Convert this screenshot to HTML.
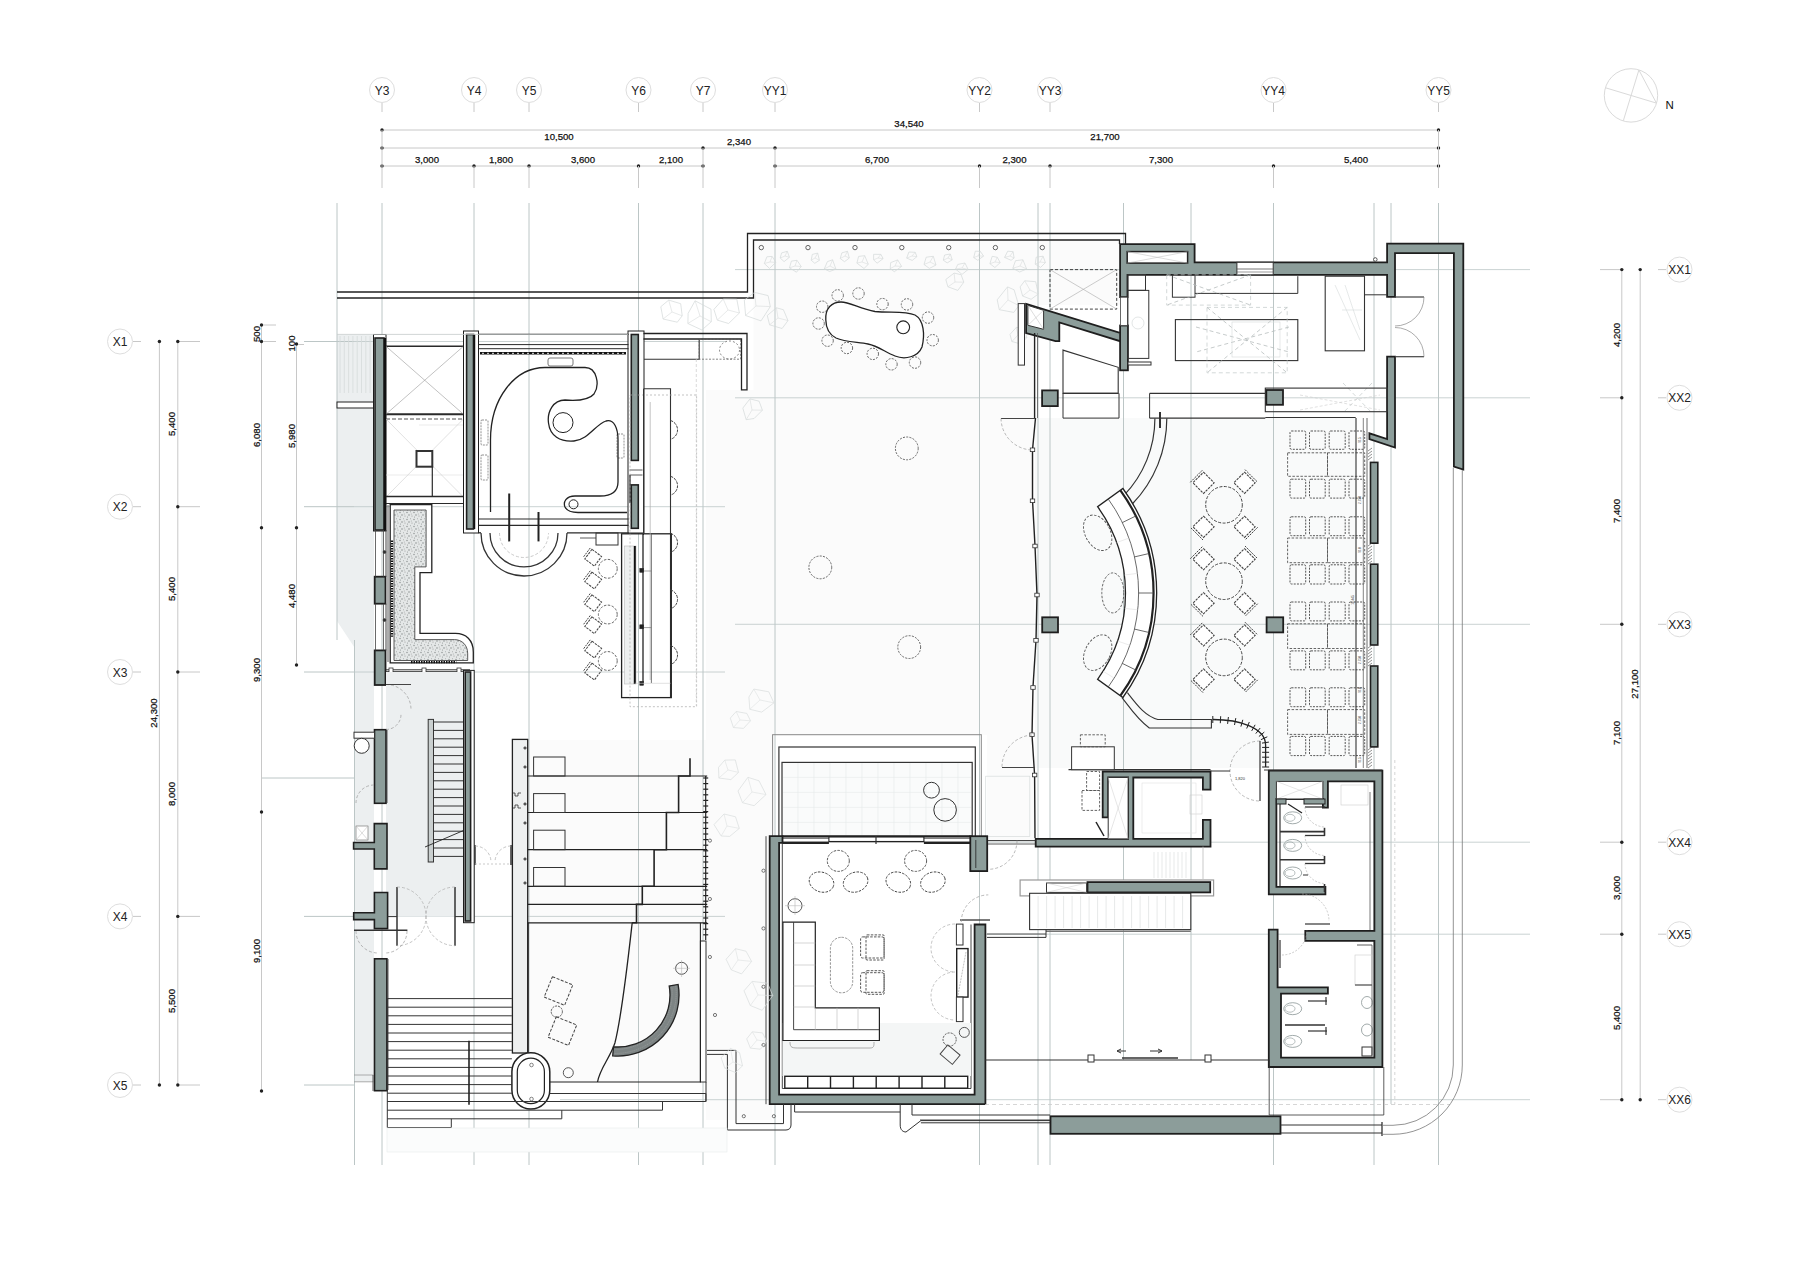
<!DOCTYPE html>
<html><head><meta charset="utf-8"><style>
html,body{margin:0;padding:0;background:#fff;overflow:hidden}
svg{display:block}
text{font-family:"Liberation Sans",sans-serif}
</style></head><body>
<svg width="1800" height="1273" viewBox="0 0 1800 1273">
<rect x="0" y="0" width="1800" height="1273" fill="#fff"/>
<path d="M337,335 L374,335 L374,1082 L354.5,1082 L354.5,647.5 L337,621 Z" fill="#eceff0"/>
<path d="M753.5,240 H1120 V305 H1034 V840 H987 V735 H706 V390 H753.5 Z" fill="#fbfbfb"/>
<rect x="1035" y="418" width="321" height="350" fill="#f9fafa"/>
<rect x="528" y="740" width="178" height="342" fill="#fbfbfb"/>
<rect x="706" y="700" width="66" height="420" fill="#fbfbfb"/>
<line x1="337" y1="203" x2="337" y2="640" stroke="#bcc6c6" stroke-width="1"/>
<line x1="382" y1="203" x2="382" y2="1165" stroke="#bcc6c6" stroke-width="1"/>
<line x1="474" y1="203" x2="474" y2="1165" stroke="#bcc6c6" stroke-width="1"/>
<line x1="529" y1="203" x2="529" y2="1165" stroke="#bcc6c6" stroke-width="1"/>
<line x1="638.5" y1="203" x2="638.5" y2="1165" stroke="#bcc6c6" stroke-width="1"/>
<line x1="703" y1="203" x2="703" y2="1165" stroke="#bcc6c6" stroke-width="1"/>
<line x1="775" y1="203" x2="775" y2="1165" stroke="#bcc6c6" stroke-width="1"/>
<line x1="979.5" y1="203" x2="979.5" y2="1165" stroke="#bcc6c6" stroke-width="1"/>
<line x1="1038" y1="203" x2="1038" y2="1165" stroke="#bcc6c6" stroke-width="1"/>
<line x1="1050" y1="203" x2="1050" y2="1165" stroke="#bcc6c6" stroke-width="1"/>
<line x1="1123.5" y1="203" x2="1123.5" y2="1060" stroke="#bcc6c6" stroke-width="1"/>
<line x1="1191" y1="203" x2="1191" y2="1060" stroke="#bcc6c6" stroke-width="1"/>
<line x1="1273.5" y1="203" x2="1273.5" y2="1165" stroke="#bcc6c6" stroke-width="1"/>
<line x1="1374" y1="203" x2="1374" y2="1165" stroke="#bcc6c6" stroke-width="1"/>
<line x1="1391" y1="203" x2="1391" y2="1104" stroke="#bcc6c6" stroke-width="1"/>
<line x1="1438.5" y1="203" x2="1438.5" y2="1165" stroke="#bcc6c6" stroke-width="1"/>
<line x1="354.5" y1="640" x2="354.5" y2="1165" stroke="#bcc6c6" stroke-width="1"/>
<circle cx="382" cy="90" r="12.5" fill="none" stroke="#dedede" stroke-width="1"/>
<text x="382" y="94.5" font-size="12" text-anchor="middle" fill="#222">Y3</text>
<line x1="382" y1="103" x2="382" y2="112" stroke="#c8c8c8"/>
<circle cx="474" cy="90" r="12.5" fill="none" stroke="#dedede" stroke-width="1"/>
<text x="474" y="94.5" font-size="12" text-anchor="middle" fill="#222">Y4</text>
<line x1="474" y1="103" x2="474" y2="112" stroke="#c8c8c8"/>
<circle cx="529" cy="90" r="12.5" fill="none" stroke="#dedede" stroke-width="1"/>
<text x="529" y="94.5" font-size="12" text-anchor="middle" fill="#222">Y5</text>
<line x1="529" y1="103" x2="529" y2="112" stroke="#c8c8c8"/>
<circle cx="638.5" cy="90" r="12.5" fill="none" stroke="#dedede" stroke-width="1"/>
<text x="638.5" y="94.5" font-size="12" text-anchor="middle" fill="#222">Y6</text>
<line x1="638.5" y1="103" x2="638.5" y2="112" stroke="#c8c8c8"/>
<circle cx="703" cy="90" r="12.5" fill="none" stroke="#dedede" stroke-width="1"/>
<text x="703" y="94.5" font-size="12" text-anchor="middle" fill="#222">Y7</text>
<line x1="703" y1="103" x2="703" y2="112" stroke="#c8c8c8"/>
<circle cx="775" cy="90" r="12.5" fill="none" stroke="#dedede" stroke-width="1"/>
<text x="775" y="94.5" font-size="12" text-anchor="middle" fill="#222">YY1</text>
<line x1="775" y1="103" x2="775" y2="112" stroke="#c8c8c8"/>
<circle cx="979.5" cy="90" r="12.5" fill="none" stroke="#dedede" stroke-width="1"/>
<text x="979.5" y="94.5" font-size="12" text-anchor="middle" fill="#222">YY2</text>
<line x1="979.5" y1="103" x2="979.5" y2="112" stroke="#c8c8c8"/>
<circle cx="1050" cy="90" r="12.5" fill="none" stroke="#dedede" stroke-width="1"/>
<text x="1050" y="94.5" font-size="12" text-anchor="middle" fill="#222">YY3</text>
<line x1="1050" y1="103" x2="1050" y2="112" stroke="#c8c8c8"/>
<circle cx="1273.5" cy="90" r="12.5" fill="none" stroke="#dedede" stroke-width="1"/>
<text x="1273.5" y="94.5" font-size="12" text-anchor="middle" fill="#222">YY4</text>
<line x1="1273.5" y1="103" x2="1273.5" y2="112" stroke="#c8c8c8"/>
<circle cx="1438.5" cy="90" r="12.5" fill="none" stroke="#dedede" stroke-width="1"/>
<text x="1438.5" y="94.5" font-size="12" text-anchor="middle" fill="#222">YY5</text>
<line x1="1438.5" y1="103" x2="1438.5" y2="112" stroke="#c8c8c8"/>
<line x1="382" y1="130" x2="1438.5" y2="130" stroke="#c8c8c8"/>
<circle cx="382" cy="130" r="1.7" fill="#222"/>
<circle cx="1438.5" cy="130" r="1.7" fill="#222"/>
<line x1="382" y1="148" x2="1438.5" y2="148" stroke="#c8c8c8"/>
<circle cx="382" cy="148" r="1.7" fill="#222"/>
<circle cx="703" cy="148" r="1.7" fill="#222"/>
<circle cx="775" cy="148" r="1.7" fill="#222"/>
<circle cx="1438.5" cy="148" r="1.7" fill="#222"/>
<line x1="382" y1="166" x2="703" y2="166" stroke="#c8c8c8"/>
<circle cx="382" cy="166" r="1.7" fill="#222"/>
<circle cx="474" cy="166" r="1.7" fill="#222"/>
<circle cx="529" cy="166" r="1.7" fill="#222"/>
<circle cx="638.5" cy="166" r="1.7" fill="#222"/>
<circle cx="703" cy="166" r="1.7" fill="#222"/>
<line x1="775" y1="166" x2="1438.5" y2="166" stroke="#c8c8c8"/>
<circle cx="775" cy="166" r="1.7" fill="#222"/>
<circle cx="979.5" cy="166" r="1.7" fill="#222"/>
<circle cx="1050" cy="166" r="1.7" fill="#222"/>
<circle cx="1273.5" cy="166" r="1.7" fill="#222"/>
<circle cx="1438.5" cy="166" r="1.7" fill="#222"/>
<line x1="382" y1="130" x2="382" y2="188" stroke="#c8c8c8"/>
<line x1="474" y1="166" x2="474" y2="188" stroke="#c8c8c8"/>
<line x1="529" y1="166" x2="529" y2="188" stroke="#c8c8c8"/>
<line x1="638.5" y1="166" x2="638.5" y2="188" stroke="#c8c8c8"/>
<line x1="703" y1="148" x2="703" y2="188" stroke="#c8c8c8"/>
<line x1="775" y1="148" x2="775" y2="188" stroke="#c8c8c8"/>
<line x1="979.5" y1="166" x2="979.5" y2="188" stroke="#c8c8c8"/>
<line x1="1050" y1="166" x2="1050" y2="188" stroke="#c8c8c8"/>
<line x1="1273.5" y1="166" x2="1273.5" y2="188" stroke="#c8c8c8"/>
<line x1="1438.5" y1="130" x2="1438.5" y2="188" stroke="#c8c8c8"/>
<text x="909" y="126.5" font-size="9.6" text-anchor="middle" fill="#111" stroke="#111" stroke-width="0.25">34,540</text>
<text x="559" y="139.5" font-size="9.6" text-anchor="middle" fill="#111" stroke="#111" stroke-width="0.25">10,500</text>
<text x="1105" y="139.5" font-size="9.6" text-anchor="middle" fill="#111" stroke="#111" stroke-width="0.25">21,700</text>
<text x="739" y="145" font-size="9.6" text-anchor="middle" fill="#111" stroke="#111" stroke-width="0.25">2,340</text>
<text x="427" y="163" font-size="9.6" text-anchor="middle" fill="#111" stroke="#111" stroke-width="0.25">3,000</text>
<text x="501" y="163" font-size="9.6" text-anchor="middle" fill="#111" stroke="#111" stroke-width="0.25">1,800</text>
<text x="583" y="163" font-size="9.6" text-anchor="middle" fill="#111" stroke="#111" stroke-width="0.25">3,600</text>
<text x="671" y="163" font-size="9.6" text-anchor="middle" fill="#111" stroke="#111" stroke-width="0.25">2,100</text>
<text x="877" y="163" font-size="9.6" text-anchor="middle" fill="#111" stroke="#111" stroke-width="0.25">6,700</text>
<text x="1014.5" y="163" font-size="9.6" text-anchor="middle" fill="#111" stroke="#111" stroke-width="0.25">2,300</text>
<text x="1161" y="163" font-size="9.6" text-anchor="middle" fill="#111" stroke="#111" stroke-width="0.25">7,300</text>
<text x="1356" y="163" font-size="9.6" text-anchor="middle" fill="#111" stroke="#111" stroke-width="0.25">5,400</text>
<circle cx="120" cy="341.5" r="12.5" fill="none" stroke="#dedede"/>
<text x="120" y="346.0" font-size="12" text-anchor="middle" fill="#222">X1</text>
<line x1="133" y1="341.5" x2="141" y2="341.5" stroke="#c8c8c8"/>
<line x1="177.8" y1="341.5" x2="200" y2="341.5" stroke="#c8c8c8"/>
<line x1="304" y1="341.5" x2="354" y2="341.5" stroke="#bcc6c6"/>
<circle cx="120" cy="506.7" r="12.5" fill="none" stroke="#dedede"/>
<text x="120" y="511.2" font-size="12" text-anchor="middle" fill="#222">X2</text>
<line x1="133" y1="506.7" x2="141" y2="506.7" stroke="#c8c8c8"/>
<line x1="177.8" y1="506.7" x2="200" y2="506.7" stroke="#c8c8c8"/>
<line x1="304" y1="506.7" x2="354" y2="506.7" stroke="#bcc6c6"/>
<circle cx="120" cy="672" r="12.5" fill="none" stroke="#dedede"/>
<text x="120" y="676.5" font-size="12" text-anchor="middle" fill="#222">X3</text>
<line x1="133" y1="672" x2="141" y2="672" stroke="#c8c8c8"/>
<line x1="177.8" y1="672" x2="200" y2="672" stroke="#c8c8c8"/>
<line x1="304" y1="672" x2="354" y2="672" stroke="#bcc6c6"/>
<circle cx="120" cy="916.4" r="12.5" fill="none" stroke="#dedede"/>
<text x="120" y="920.9" font-size="12" text-anchor="middle" fill="#222">X4</text>
<line x1="133" y1="916.4" x2="141" y2="916.4" stroke="#c8c8c8"/>
<line x1="177.8" y1="916.4" x2="200" y2="916.4" stroke="#c8c8c8"/>
<line x1="304" y1="916.4" x2="354" y2="916.4" stroke="#bcc6c6"/>
<circle cx="120" cy="1085" r="12.5" fill="none" stroke="#dedede"/>
<text x="120" y="1089.5" font-size="12" text-anchor="middle" fill="#222">X5</text>
<line x1="133" y1="1085" x2="141" y2="1085" stroke="#c8c8c8"/>
<line x1="177.8" y1="1085" x2="200" y2="1085" stroke="#c8c8c8"/>
<line x1="304" y1="1085" x2="354" y2="1085" stroke="#bcc6c6"/>
<line x1="159.4" y1="341.5" x2="159.4" y2="1085" stroke="#c8c8c8"/>
<circle cx="159.4" cy="341.5" r="1.7" fill="#222"/>
<circle cx="159.4" cy="1085" r="1.7" fill="#222"/>
<line x1="177.8" y1="341.5" x2="177.8" y2="1085" stroke="#c8c8c8"/>
<circle cx="177.8" cy="341.5" r="1.7" fill="#222"/>
<circle cx="177.8" cy="506.7" r="1.7" fill="#222"/>
<circle cx="177.8" cy="672" r="1.7" fill="#222"/>
<circle cx="177.8" cy="916.4" r="1.7" fill="#222"/>
<circle cx="177.8" cy="1085" r="1.7" fill="#222"/>
<line x1="261.5" y1="325" x2="261.5" y2="1091" stroke="#c8c8c8"/>
<circle cx="261.5" cy="325" r="1.7" fill="#222"/>
<circle cx="261.5" cy="341.5" r="1.7" fill="#222"/>
<circle cx="261.5" cy="527.7" r="1.7" fill="#222"/>
<circle cx="261.5" cy="812" r="1.7" fill="#222"/>
<circle cx="261.5" cy="1091" r="1.7" fill="#222"/>
<line x1="296.5" y1="344" x2="296.5" y2="665" stroke="#c8c8c8"/>
<circle cx="296.5" cy="344" r="1.7" fill="#222"/>
<circle cx="296.5" cy="527.7" r="1.7" fill="#222"/>
<circle cx="296.5" cy="665" r="1.7" fill="#222"/>
<text transform="translate(174.5,424) rotate(-90)" x="0" y="0" font-size="9.6" text-anchor="middle" fill="#111" stroke="#111" stroke-width="0.25">5,400</text>
<text transform="translate(174.5,589) rotate(-90)" x="0" y="0" font-size="9.6" text-anchor="middle" fill="#111" stroke="#111" stroke-width="0.25">5,400</text>
<text transform="translate(157,713) rotate(-90)" x="0" y="0" font-size="9.6" text-anchor="middle" fill="#111" stroke="#111" stroke-width="0.25">24,300</text>
<text transform="translate(174.5,794) rotate(-90)" x="0" y="0" font-size="9.6" text-anchor="middle" fill="#111" stroke="#111" stroke-width="0.25">8,000</text>
<text transform="translate(174.5,1001) rotate(-90)" x="0" y="0" font-size="9.6" text-anchor="middle" fill="#111" stroke="#111" stroke-width="0.25">5,500</text>
<text transform="translate(259.5,435) rotate(-90)" x="0" y="0" font-size="9.6" text-anchor="middle" fill="#111" stroke="#111" stroke-width="0.25">6,080</text>
<text transform="translate(294.5,436) rotate(-90)" x="0" y="0" font-size="9.6" text-anchor="middle" fill="#111" stroke="#111" stroke-width="0.25">5,980</text>
<text transform="translate(294.5,596) rotate(-90)" x="0" y="0" font-size="9.6" text-anchor="middle" fill="#111" stroke="#111" stroke-width="0.25">4,480</text>
<text transform="translate(259.5,670) rotate(-90)" x="0" y="0" font-size="9.6" text-anchor="middle" fill="#111" stroke="#111" stroke-width="0.25">9,300</text>
<text transform="translate(259.5,951) rotate(-90)" x="0" y="0" font-size="9.6" text-anchor="middle" fill="#111" stroke="#111" stroke-width="0.25">9,100</text>
<text transform="translate(259.5,334) rotate(-90)" x="0" y="0" font-size="9.6" text-anchor="middle" fill="#111" stroke="#111" stroke-width="0.25">500</text>
<text transform="translate(294.5,343.5) rotate(-90)" x="0" y="0" font-size="9.6" text-anchor="middle" fill="#111" stroke="#111" stroke-width="0.25">100</text>
<line x1="262" y1="778" x2="354" y2="778" stroke="#bcc6c6"/>
<line x1="263" y1="325" x2="276" y2="325" stroke="#c8c8c8"/>
<line x1="263" y1="341.5" x2="276" y2="341.5" stroke="#c8c8c8"/>
<line x1="298" y1="344.5" x2="304" y2="344.5" stroke="#c8c8c8"/>
<circle cx="1679.5" cy="269.6" r="12.5" fill="none" stroke="#dedede"/>
<text x="1679.5" y="274.1" font-size="12" text-anchor="middle" fill="#222">XX1</text>
<line x1="1658" y1="269.6" x2="1666" y2="269.6" stroke="#c8c8c8"/>
<line x1="1600" y1="269.6" x2="1622" y2="269.6" stroke="#c8c8c8"/>
<circle cx="1679.5" cy="397.8" r="12.5" fill="none" stroke="#dedede"/>
<text x="1679.5" y="402.3" font-size="12" text-anchor="middle" fill="#222">XX2</text>
<line x1="1658" y1="397.8" x2="1666" y2="397.8" stroke="#c8c8c8"/>
<line x1="1600" y1="397.8" x2="1622" y2="397.8" stroke="#c8c8c8"/>
<circle cx="1679.5" cy="624.3" r="12.5" fill="none" stroke="#dedede"/>
<text x="1679.5" y="628.8" font-size="12" text-anchor="middle" fill="#222">XX3</text>
<line x1="1658" y1="624.3" x2="1666" y2="624.3" stroke="#c8c8c8"/>
<line x1="1600" y1="624.3" x2="1622" y2="624.3" stroke="#c8c8c8"/>
<circle cx="1679.5" cy="842.2" r="12.5" fill="none" stroke="#dedede"/>
<text x="1679.5" y="846.7" font-size="12" text-anchor="middle" fill="#222">XX4</text>
<line x1="1658" y1="842.2" x2="1666" y2="842.2" stroke="#c8c8c8"/>
<line x1="1600" y1="842.2" x2="1622" y2="842.2" stroke="#c8c8c8"/>
<circle cx="1679.5" cy="934.2" r="12.5" fill="none" stroke="#dedede"/>
<text x="1679.5" y="938.7" font-size="12" text-anchor="middle" fill="#222">XX5</text>
<line x1="1658" y1="934.2" x2="1666" y2="934.2" stroke="#c8c8c8"/>
<line x1="1600" y1="934.2" x2="1622" y2="934.2" stroke="#c8c8c8"/>
<circle cx="1679.5" cy="1099.7" r="12.5" fill="none" stroke="#dedede"/>
<text x="1679.5" y="1104.2" font-size="12" text-anchor="middle" fill="#222">XX6</text>
<line x1="1658" y1="1099.7" x2="1666" y2="1099.7" stroke="#c8c8c8"/>
<line x1="1600" y1="1099.7" x2="1622" y2="1099.7" stroke="#c8c8c8"/>
<line x1="1621.8" y1="269.6" x2="1621.8" y2="1099.7" stroke="#c8c8c8"/>
<circle cx="1621.8" cy="269.6" r="1.7" fill="#222"/>
<circle cx="1621.8" cy="397.8" r="1.7" fill="#222"/>
<circle cx="1621.8" cy="624.3" r="1.7" fill="#222"/>
<circle cx="1621.8" cy="842.2" r="1.7" fill="#222"/>
<circle cx="1621.8" cy="934.2" r="1.7" fill="#222"/>
<circle cx="1621.8" cy="1099.7" r="1.7" fill="#222"/>
<line x1="1640.2" y1="269.6" x2="1640.2" y2="1099.7" stroke="#c8c8c8"/>
<circle cx="1640.2" cy="269.6" r="1.7" fill="#222"/>
<circle cx="1640.2" cy="1099.7" r="1.7" fill="#222"/>
<text transform="translate(1619.5,335) rotate(-90)" x="0" y="0" font-size="9.6" text-anchor="middle" fill="#111" stroke="#111" stroke-width="0.25">4,200</text>
<text transform="translate(1619.5,511) rotate(-90)" x="0" y="0" font-size="9.6" text-anchor="middle" fill="#111" stroke="#111" stroke-width="0.25">7,400</text>
<text transform="translate(1619.5,733) rotate(-90)" x="0" y="0" font-size="9.6" text-anchor="middle" fill="#111" stroke="#111" stroke-width="0.25">7,100</text>
<text transform="translate(1619.5,888) rotate(-90)" x="0" y="0" font-size="9.6" text-anchor="middle" fill="#111" stroke="#111" stroke-width="0.25">3,000</text>
<text transform="translate(1619.5,1018) rotate(-90)" x="0" y="0" font-size="9.6" text-anchor="middle" fill="#111" stroke="#111" stroke-width="0.25">5,400</text>
<text transform="translate(1637.5,684) rotate(-90)" x="0" y="0" font-size="9.6" text-anchor="middle" fill="#111" stroke="#111" stroke-width="0.25">27,100</text>
<circle cx="1631" cy="95.4" r="26.7" fill="none" stroke="#dadada" stroke-width="1"/>
<path d="M1605.6,87.8 L1656.1,103 M1638.9,70 L1623.3,120.8 M1638.9,70 L1656.4,103" fill="none" stroke="#dadada" stroke-width="1"/>
<text x="1665.5" y="108.6" font-size="11.5" fill="#111">N</text>
<line x1="354" y1="341.5" x2="725" y2="341.5" stroke="#bcc6c6" stroke-width="0.8"/>
<line x1="354" y1="506.7" x2="725" y2="506.7" stroke="#bcc6c6" stroke-width="0.8"/>
<line x1="354" y1="672" x2="725" y2="672" stroke="#bcc6c6" stroke-width="0.8"/>
<line x1="354" y1="916.4" x2="725" y2="916.4" stroke="#bcc6c6" stroke-width="0.8"/>
<line x1="735" y1="269.6" x2="1530" y2="269.6" stroke="#bcc6c6" stroke-width="0.8"/>
<line x1="735" y1="397.8" x2="1530" y2="397.8" stroke="#bcc6c6" stroke-width="0.8"/>
<line x1="735" y1="624.3" x2="1530" y2="624.3" stroke="#bcc6c6" stroke-width="0.8"/>
<line x1="985" y1="842.2" x2="1530" y2="842.2" stroke="#bcc6c6" stroke-width="0.8"/>
<line x1="985" y1="934.2" x2="1530" y2="934.2" stroke="#bcc6c6" stroke-width="0.8"/>
<line x1="560" y1="1099.7" x2="1530" y2="1099.7" stroke="#bcc6c6" stroke-width="0.8"/>
<path d="M337,292 H747.5 V233.5 H1125.5 V244" fill="none" stroke="#222" stroke-width="1.3" />
<path d="M337,298 H753.5 V240 H1119.5 V244" fill="none" stroke="#222" stroke-width="1.3" />
<line x1="340.0" y1="336.0" x2="340.0" y2="393.0" stroke="#d5dbdb" stroke-width="0.8"/>
<line x1="344.3" y1="336.0" x2="344.3" y2="393.0" stroke="#d5dbdb" stroke-width="0.8"/>
<line x1="348.6" y1="336.0" x2="348.6" y2="393.0" stroke="#d5dbdb" stroke-width="0.8"/>
<line x1="352.9" y1="336.0" x2="352.9" y2="393.0" stroke="#d5dbdb" stroke-width="0.8"/>
<line x1="357.2" y1="336.0" x2="357.2" y2="393.0" stroke="#d5dbdb" stroke-width="0.8"/>
<line x1="361.5" y1="336.0" x2="361.5" y2="393.0" stroke="#d5dbdb" stroke-width="0.8"/>
<line x1="365.8" y1="336.0" x2="365.8" y2="393.0" stroke="#d5dbdb" stroke-width="0.8"/>
<line x1="370.1" y1="336.0" x2="370.1" y2="393.0" stroke="#d5dbdb" stroke-width="0.8"/>
<rect x="337.0" y="402.0" width="37.0" height="6.0" fill="#fff" stroke="#222" stroke-width="1"/>
<rect x="373.5" y="334.5" width="12.5" height="196.5" fill="#fff" stroke="#1e1e1e" stroke-width="1"/>
<rect x="375.0" y="338.0" width="9.0" height="192.0" fill="#8c9d9a" stroke="#1e1e1e" stroke-width="1.6"/>
<line x1="385.0" y1="338.0" x2="385.0" y2="531.0" stroke="#111" stroke-width="2.2"/>
<rect x="374.7" y="576.7" width="10.8" height="27.0" fill="#8c9d9a" stroke="#1e1e1e" stroke-width="1.8"/>
<rect x="374.7" y="650.4" width="10.8" height="34.6" fill="#8c9d9a" stroke="#1e1e1e" stroke-width="1.8"/>
<line x1="375.5" y1="530.0" x2="375.5" y2="576.7" stroke="#444" stroke-width="0.8"/>
<line x1="383.5" y1="530.0" x2="383.5" y2="576.7" stroke="#444" stroke-width="0.8"/>
<line x1="386.0" y1="530.0" x2="386.0" y2="576.7" stroke="#444" stroke-width="1"/>
<line x1="375.5" y1="603.7" x2="375.5" y2="650.4" stroke="#444" stroke-width="0.8"/>
<line x1="383.5" y1="603.7" x2="383.5" y2="650.4" stroke="#444" stroke-width="0.8"/>
<line x1="386.0" y1="603.7" x2="386.0" y2="650.4" stroke="#444" stroke-width="1"/>
<line x1="386.0" y1="346.3" x2="463.4" y2="346.3" stroke="#2a2a2a" stroke-width="1.6"/>
<line x1="386.0" y1="414.2" x2="463.4" y2="414.2" stroke="#2a2a2a" stroke-width="2"/>
<line x1="386.0" y1="419.0" x2="463.4" y2="419.0" stroke="#555" stroke-width="1.2" stroke-dasharray="4 2"/>
<line x1="386.0" y1="346.3" x2="463.4" y2="414.2" stroke="#999" stroke-width="0.6"/>
<line x1="463.4" y1="346.3" x2="386.0" y2="414.2" stroke="#999" stroke-width="0.6"/>
<line x1="419.0" y1="425.0" x2="463.0" y2="425.0" stroke="#ddd" stroke-width="0.6"/>
<line x1="386.0" y1="475.0" x2="463.0" y2="475.0" stroke="#ddd" stroke-width="0.6"/>
<line x1="386.0" y1="419.0" x2="463.4" y2="497.0" stroke="#ccc" stroke-width="0.6"/>
<line x1="463.4" y1="419.0" x2="386.0" y2="497.0" stroke="#ccc" stroke-width="0.6"/>
<rect x="416.5" y="451.0" width="15.8" height="15.7" fill="#fff" stroke="#333" stroke-width="2"/>
<line x1="432.3" y1="466.7" x2="432.3" y2="497.0" stroke="#2a2a2a" stroke-width="1.2"/>
<line x1="386.0" y1="496.6" x2="463.4" y2="496.6" stroke="#2a2a2a" stroke-width="1.5"/>
<line x1="386.0" y1="503.5" x2="463.4" y2="503.5" stroke="#2a2a2a" stroke-width="1.2"/>
<rect x="463.5" y="331.0" width="15.0" height="202.0" fill="#fff" stroke="#1e1e1e" stroke-width="1"/>
<rect x="466.6" y="334.5" width="6.9" height="194.5" fill="#8c9d9a" stroke="#1e1e1e" stroke-width="1.6"/>
<line x1="474.5" y1="334.5" x2="474.5" y2="529.0" stroke="#111" stroke-width="1.5"/>
<rect x="628.0" y="331.0" width="16.0" height="202.0" fill="#fff" stroke="#1e1e1e" stroke-width="1"/>
<rect x="631.3" y="334.5" width="7.0" height="125.9" fill="#8c9d9a" stroke="#1e1e1e" stroke-width="1.6"/>
<rect x="631.3" y="484.9" width="7.0" height="43.4" fill="#8c9d9a" stroke="#1e1e1e" stroke-width="1.6"/>
<line x1="629.5" y1="470.0" x2="642.5" y2="470.0" stroke="#333" stroke-width="0.8"/>
<line x1="629.5" y1="475.0" x2="642.5" y2="475.0" stroke="#333" stroke-width="0.8"/>
<line x1="630.0" y1="475.0" x2="630.0" y2="503.0" stroke="#111" stroke-width="1.2"/>
<line x1="478.5" y1="334.3" x2="628.5" y2="334.3" stroke="#2a2a2a" stroke-width="1.3"/>
<line x1="478.5" y1="344.6" x2="628.5" y2="344.6" stroke="#2a2a2a" stroke-width="1"/>
<line x1="478.5" y1="348.7" x2="628.5" y2="348.7" stroke="#2a2a2a" stroke-width="1"/>
<line x1="480.0" y1="353.3" x2="626.0" y2="353.3" stroke="#111" stroke-width="2.6"/>
<line x1="482.0" y1="353.3" x2="626.0" y2="353.3" stroke="#fff" stroke-width="0.9" stroke-dasharray="2 3"/>
<rect x="548.0" y="358.0" width="25.0" height="8.0" fill="none" stroke="#555" stroke-width="0.8" rx="2"/>
<rect x="481.0" y="420.0" width="7.0" height="25.0" fill="none" stroke="#777" stroke-width="0.8" stroke-dasharray="2 1" rx="1"/>
<rect x="481.0" y="455.0" width="7.0" height="25.0" fill="none" stroke="#777" stroke-width="0.8" stroke-dasharray="2 1" rx="1"/>
<rect x="617.0" y="434.0" width="7.0" height="24.0" fill="none" stroke="#777" stroke-width="0.8" stroke-dasharray="2 1" rx="1"/>
<path d="M490.5,512 V440 C490.5,398 515,367.5 545,367.5 H585 C597,367.5 600,385 594,394 C589,400 578,401 565,400 C553,400 547,412 548.5,423 C550,436 560,442 574,441 C588,440 596,424 606,421 C614,419 618,428 618,440 V482 C618,492 612,496 600,496 H575 C566,496 563,502 565,507 C567,511 571,512.5 578,512.5 H627" fill="none" stroke="#222" stroke-width="1.3" />
<circle cx="563.0" cy="422.6" r="10.0" fill="none" stroke="#222" stroke-width="1"/>
<circle cx="573.5" cy="504.3" r="4.5" fill="none" stroke="#222" stroke-width="1"/>
<line x1="478.5" y1="519.0" x2="628.5" y2="519.0" stroke="#2a2a2a" stroke-width="1.2"/>
<line x1="478.5" y1="525.3" x2="628.5" y2="525.3" stroke="#2a2a2a" stroke-width="1.2"/>
<line x1="478.5" y1="532.8" x2="481.0" y2="532.8" stroke="#2a2a2a" stroke-width="1.3"/>
<line x1="567.0" y1="532.8" x2="628.5" y2="532.8" stroke="#2a2a2a" stroke-width="1.3"/>
<path d="M481,533 A43,43 0 0 0 567,533" fill="none" stroke="#333" stroke-width="1.3" />
<path d="M490,533 A34,34 0 0 0 558,533" fill="none" stroke="#333" stroke-width="1.3" />
<path d="M499.5,533 A24.5,24.5 0 0 0 548.5,533" fill="none" stroke="#bbb" stroke-width="0.8" stroke-dasharray="3 2" />
<line x1="509.2" y1="493.5" x2="509.2" y2="541.4" stroke="#222" stroke-width="2"/>
<line x1="538.5" y1="512.0" x2="538.5" y2="541.4" stroke="#222" stroke-width="2"/>
<path d="M643.5,333.5 H747 V389.8 H741.5 V339 H643.5" fill="none" stroke="#222" stroke-width="1.3" />
<ellipse cx="729.5" cy="350.0" rx="10.0" ry="9.0" transform="rotate(0 729.5 350.0)" fill="none" stroke="#666" stroke-width="0.8" stroke-dasharray="2 2"/>
<path d="M644,359.2 H699.2 V339.2" fill="none" stroke="#333" stroke-width="1.1" />
<rect x="699.2" y="339.2" width="41.4" height="20.0" fill="none" stroke="#666" stroke-width="0.8" stroke-dasharray="2 1.5"/>
<path d="M643.5,388.8 H670.5 V697.6" fill="none" stroke="#333" stroke-width="1.1" />
<rect x="621.6" y="533.8" width="49.7" height="163.8" fill="none" stroke="#222" stroke-width="1.3"/>
<rect x="624.5" y="546.0" width="11.5" height="138.0" fill="#eef0f0" stroke="#bbb" stroke-width="0.6"/>
<line x1="634.8" y1="546.0" x2="634.8" y2="684.0" stroke="#111" stroke-width="2"/>
<rect x="630.0" y="395.0" width="66.6" height="311.7" fill="none" stroke="#aaa" stroke-width="0.7" stroke-dasharray="2 2"/>
<line x1="643.5" y1="389.0" x2="643.5" y2="535.0" stroke="#333" stroke-width="1"/>
<line x1="650.2" y1="402.0" x2="650.2" y2="680.0" stroke="#aaa" stroke-width="0.7"/>
<line x1="696.3" y1="359.0" x2="696.3" y2="706.0" stroke="#ccc" stroke-width="0.7" stroke-dasharray="3 2"/>
<path d="M670.5,420.5 A9.8,9.8 0 0 1 670.5,439.3" fill="none" stroke="#444" stroke-width="1" stroke-dasharray="3 1" />
<path d="M670.5,476.3 A9.8,9.8 0 0 1 670.5,495.1" fill="none" stroke="#444" stroke-width="1" stroke-dasharray="3 1" />
<path d="M670.5,533.4 A9.8,9.8 0 0 1 670.5,552.2" fill="none" stroke="#444" stroke-width="1" stroke-dasharray="3 1" />
<path d="M670.5,589.9 A9.8,9.8 0 0 1 670.5,608.7" fill="none" stroke="#444" stroke-width="1" stroke-dasharray="3 1" />
<path d="M670.5,645.6 A9.8,9.8 0 0 1 670.5,664.4" fill="none" stroke="#444" stroke-width="1" stroke-dasharray="3 1" />
<line x1="643.0" y1="534.0" x2="643.0" y2="683.0" stroke="#222" stroke-width="1.3"/>
<line x1="651.4" y1="534.0" x2="651.4" y2="683.0" stroke="#555" stroke-width="0.8"/>
<line x1="643.0" y1="571.0" x2="651.4" y2="571.0" stroke="#777" stroke-width="0.7"/>
<line x1="643.0" y1="627.6" x2="651.4" y2="627.6" stroke="#777" stroke-width="0.7"/>
<rect x="639.8" y="568.3" width="3.8" height="4.0" fill="#222" stroke="#222" stroke-width="0.5"/>
<rect x="639.8" y="624.8" width="3.8" height="4.0" fill="#222" stroke="#222" stroke-width="0.5"/>
<rect x="639.8" y="681.3" width="3.8" height="4.0" fill="#222" stroke="#222" stroke-width="0.5"/>
<line x1="634.4" y1="683.3" x2="670.5" y2="683.3" stroke="#ccc" stroke-width="0.6"/>
<circle cx="607.8" cy="568.8" r="9.4" fill="none" stroke="#555" stroke-width="0.9" stroke-dasharray="2.5 1.5"/>
<circle cx="607.8" cy="614.5" r="9.4" fill="none" stroke="#555" stroke-width="0.9" stroke-dasharray="2.5 1.5"/>
<circle cx="607.8" cy="661.0" r="9.4" fill="none" stroke="#555" stroke-width="0.9" stroke-dasharray="2.5 1.5"/>
<rect x="-6" y="-6" width="12" height="12" transform="translate(593.2 557.7) rotate(37)" fill="none" stroke="#444" stroke-width="1" stroke-dasharray="2.5 1"/>
<line x1="-8.2" y1="-6" x2="-8.2" y2="6" transform="translate(593.2 557.7) rotate(37)" stroke="#444" stroke-width="0.9" stroke-dasharray="2 1"/>
<rect x="-6" y="-6" width="12" height="12" transform="translate(593.2 580.5) rotate(37)" fill="none" stroke="#444" stroke-width="1" stroke-dasharray="2.5 1"/>
<line x1="-8.2" y1="-6" x2="-8.2" y2="6" transform="translate(593.2 580.5) rotate(37)" stroke="#444" stroke-width="0.9" stroke-dasharray="2 1"/>
<rect x="-6" y="-6" width="12" height="12" transform="translate(593.2 603.2) rotate(37)" fill="none" stroke="#444" stroke-width="1" stroke-dasharray="2.5 1"/>
<line x1="-8.2" y1="-6" x2="-8.2" y2="6" transform="translate(593.2 603.2) rotate(37)" stroke="#444" stroke-width="0.9" stroke-dasharray="2 1"/>
<rect x="-6" y="-6" width="12" height="12" transform="translate(593.2 625.2) rotate(37)" fill="none" stroke="#444" stroke-width="1" stroke-dasharray="2.5 1"/>
<line x1="-8.2" y1="-6" x2="-8.2" y2="6" transform="translate(593.2 625.2) rotate(37)" stroke="#444" stroke-width="0.9" stroke-dasharray="2 1"/>
<rect x="-6" y="-6" width="12" height="12" transform="translate(593.2 649.6) rotate(37)" fill="none" stroke="#444" stroke-width="1" stroke-dasharray="2.5 1"/>
<line x1="-8.2" y1="-6" x2="-8.2" y2="6" transform="translate(593.2 649.6) rotate(37)" stroke="#444" stroke-width="0.9" stroke-dasharray="2 1"/>
<rect x="-6" y="-6" width="12" height="12" transform="translate(593.2 671.6) rotate(37)" fill="none" stroke="#444" stroke-width="1" stroke-dasharray="2.5 1"/>
<line x1="-8.2" y1="-6" x2="-8.2" y2="6" transform="translate(593.2 671.6) rotate(37)" stroke="#444" stroke-width="0.9" stroke-dasharray="2 1"/>
<circle cx="761.3" cy="247.6" r="2.2" fill="none" stroke="#555" stroke-width="0.9"/>
<circle cx="808.0" cy="247.6" r="2.2" fill="none" stroke="#555" stroke-width="0.9"/>
<circle cx="855.0" cy="247.6" r="2.2" fill="none" stroke="#555" stroke-width="0.9"/>
<circle cx="901.8" cy="247.6" r="2.2" fill="none" stroke="#555" stroke-width="0.9"/>
<circle cx="948.7" cy="247.6" r="2.2" fill="none" stroke="#555" stroke-width="0.9"/>
<circle cx="995.4" cy="247.6" r="2.2" fill="none" stroke="#555" stroke-width="0.9"/>
<circle cx="1042.3" cy="247.6" r="2.2" fill="none" stroke="#555" stroke-width="0.9"/>
<path d="M775.9,262.4 L769.5,268.4 L764.3,263.5 L766.9,256.8 L772.1,256.4 Z" fill="none" stroke="#d3d8d8" stroke-width="0.7" />
<line x1="770.0" y1="262.0" x2="775.9" y2="262.4" stroke="#d8dcdc" stroke-width="0.6"/>
<line x1="770.0" y1="262.0" x2="764.3" y2="263.5" stroke="#d8dcdc" stroke-width="0.6"/>
<line x1="770.0" y1="262.0" x2="772.1" y2="256.4" stroke="#d8dcdc" stroke-width="0.6"/>
<path d="M789.4,257.3 L784.1,261.6 L780.2,258.0 L781.6,252.9 L787.3,251.3 Z" fill="none" stroke="#d3d8d8" stroke-width="0.7" />
<line x1="785.0" y1="256.0" x2="789.4" y2="257.3" stroke="#d8dcdc" stroke-width="0.6"/>
<line x1="785.0" y1="256.0" x2="780.2" y2="258.0" stroke="#d8dcdc" stroke-width="0.6"/>
<line x1="785.0" y1="256.0" x2="787.3" y2="251.3" stroke="#d8dcdc" stroke-width="0.6"/>
<path d="M801.2,266.5 L796.5,272.2 L789.5,267.8 L791.4,261.1 L797.0,260.3 Z" fill="none" stroke="#d3d8d8" stroke-width="0.7" />
<line x1="795.0" y1="266.0" x2="801.2" y2="266.5" stroke="#d8dcdc" stroke-width="0.6"/>
<line x1="795.0" y1="266.0" x2="789.5" y2="267.8" stroke="#d8dcdc" stroke-width="0.6"/>
<line x1="795.0" y1="266.0" x2="797.0" y2="260.3" stroke="#d8dcdc" stroke-width="0.6"/>
<path d="M819.4,260.3 L814.8,263.3 L811.2,260.2 L812.3,254.4 L817.7,253.1 Z" fill="none" stroke="#d3d8d8" stroke-width="0.7" />
<line x1="815.0" y1="258.0" x2="819.4" y2="260.3" stroke="#d8dcdc" stroke-width="0.6"/>
<line x1="815.0" y1="258.0" x2="811.2" y2="260.2" stroke="#d8dcdc" stroke-width="0.6"/>
<line x1="815.0" y1="258.0" x2="817.7" y2="253.1" stroke="#d8dcdc" stroke-width="0.6"/>
<path d="M835.9,269.1 L829.7,271.5 L824.3,268.9 L827.4,261.6 L832.6,259.8 Z" fill="none" stroke="#d3d8d8" stroke-width="0.7" />
<line x1="830.0" y1="266.0" x2="835.9" y2="269.1" stroke="#d8dcdc" stroke-width="0.6"/>
<line x1="830.0" y1="266.0" x2="824.3" y2="268.9" stroke="#d8dcdc" stroke-width="0.6"/>
<line x1="830.0" y1="266.0" x2="832.6" y2="259.8" stroke="#d8dcdc" stroke-width="0.6"/>
<path d="M849.3,258.0 L844.5,261.7 L840.2,258.5 L841.9,252.8 L847.5,251.3 Z" fill="none" stroke="#d3d8d8" stroke-width="0.7" />
<line x1="845.0" y1="256.0" x2="849.3" y2="258.0" stroke="#d8dcdc" stroke-width="0.6"/>
<line x1="845.0" y1="256.0" x2="840.2" y2="258.5" stroke="#d8dcdc" stroke-width="0.6"/>
<line x1="845.0" y1="256.0" x2="847.5" y2="251.3" stroke="#d8dcdc" stroke-width="0.6"/>
<path d="M868.3,264.3 L864.0,268.5 L856.9,263.1 L858.6,256.4 L864.7,255.7 Z" fill="none" stroke="#d3d8d8" stroke-width="0.7" />
<line x1="862.0" y1="262.0" x2="868.3" y2="264.3" stroke="#d8dcdc" stroke-width="0.6"/>
<line x1="862.0" y1="262.0" x2="856.9" y2="263.1" stroke="#d8dcdc" stroke-width="0.6"/>
<line x1="862.0" y1="262.0" x2="864.7" y2="255.7" stroke="#d8dcdc" stroke-width="0.6"/>
<path d="M883.1,258.6 L877.1,263.2 L873.6,259.8 L873.6,254.3 L880.9,254.4 Z" fill="none" stroke="#d3d8d8" stroke-width="0.7" />
<line x1="878.0" y1="258.0" x2="883.1" y2="258.6" stroke="#d8dcdc" stroke-width="0.6"/>
<line x1="878.0" y1="258.0" x2="873.6" y2="259.8" stroke="#d8dcdc" stroke-width="0.6"/>
<line x1="878.0" y1="258.0" x2="880.9" y2="254.4" stroke="#d8dcdc" stroke-width="0.6"/>
<path d="M901.6,266.4 L894.3,271.7 L890.2,268.6 L890.7,262.6 L897.7,259.9 Z" fill="none" stroke="#d3d8d8" stroke-width="0.7" />
<line x1="895.0" y1="266.0" x2="901.6" y2="266.4" stroke="#d8dcdc" stroke-width="0.6"/>
<line x1="895.0" y1="266.0" x2="890.2" y2="268.6" stroke="#d8dcdc" stroke-width="0.6"/>
<line x1="895.0" y1="266.0" x2="897.7" y2="259.9" stroke="#d8dcdc" stroke-width="0.6"/>
<path d="M916.9,256.7 L912.2,260.4 L906.7,258.1 L908.9,252.0 L915.2,252.3 Z" fill="none" stroke="#d3d8d8" stroke-width="0.7" />
<line x1="912.0" y1="256.0" x2="916.9" y2="256.7" stroke="#d8dcdc" stroke-width="0.6"/>
<line x1="912.0" y1="256.0" x2="906.7" y2="258.1" stroke="#d8dcdc" stroke-width="0.6"/>
<line x1="912.0" y1="256.0" x2="915.2" y2="252.3" stroke="#d8dcdc" stroke-width="0.6"/>
<path d="M936.0,265.0 L929.4,268.4 L924.0,264.5 L926.2,257.2 L933.3,256.3 Z" fill="none" stroke="#d3d8d8" stroke-width="0.7" />
<line x1="930.0" y1="262.0" x2="936.0" y2="265.0" stroke="#d8dcdc" stroke-width="0.6"/>
<line x1="930.0" y1="262.0" x2="924.0" y2="264.5" stroke="#d8dcdc" stroke-width="0.6"/>
<line x1="930.0" y1="262.0" x2="933.3" y2="256.3" stroke="#d8dcdc" stroke-width="0.6"/>
<path d="M952.2,259.8 L947.2,262.9 L943.3,260.2 L944.6,255.0 L950.3,254.0 Z" fill="none" stroke="#d3d8d8" stroke-width="0.7" />
<line x1="948.0" y1="258.0" x2="952.2" y2="259.8" stroke="#d8dcdc" stroke-width="0.6"/>
<line x1="948.0" y1="258.0" x2="943.3" y2="260.2" stroke="#d8dcdc" stroke-width="0.6"/>
<line x1="948.0" y1="258.0" x2="950.3" y2="254.0" stroke="#d8dcdc" stroke-width="0.6"/>
<path d="M968.1,269.5 L962.0,274.4 L955.6,269.1 L957.8,264.4 L965.0,263.0 Z" fill="none" stroke="#d3d8d8" stroke-width="0.7" />
<line x1="962.0" y1="268.0" x2="968.1" y2="269.5" stroke="#d8dcdc" stroke-width="0.6"/>
<line x1="962.0" y1="268.0" x2="955.6" y2="269.1" stroke="#d8dcdc" stroke-width="0.6"/>
<line x1="962.0" y1="268.0" x2="965.0" y2="263.0" stroke="#d8dcdc" stroke-width="0.6"/>
<path d="M983.6,256.1 L977.8,260.3 L973.7,257.6 L975.3,251.2 L980.3,251.4 Z" fill="none" stroke="#d3d8d8" stroke-width="0.7" />
<line x1="978.0" y1="256.0" x2="983.6" y2="256.1" stroke="#d8dcdc" stroke-width="0.6"/>
<line x1="978.0" y1="256.0" x2="973.7" y2="257.6" stroke="#d8dcdc" stroke-width="0.6"/>
<line x1="978.0" y1="256.0" x2="980.3" y2="251.4" stroke="#d8dcdc" stroke-width="0.6"/>
<path d="M1000.2,262.6 L994.9,267.5 L989.9,263.7 L992.2,256.3 L997.3,257.3 Z" fill="none" stroke="#d3d8d8" stroke-width="0.7" />
<line x1="995.0" y1="262.0" x2="1000.2" y2="262.6" stroke="#d8dcdc" stroke-width="0.6"/>
<line x1="995.0" y1="262.0" x2="989.9" y2="263.7" stroke="#d8dcdc" stroke-width="0.6"/>
<line x1="995.0" y1="262.0" x2="997.3" y2="257.3" stroke="#d8dcdc" stroke-width="0.6"/>
<path d="M1014.1,258.0 L1011.1,260.3 L1004.6,257.4 L1007.7,251.2 L1013.1,251.7 Z" fill="none" stroke="#d3d8d8" stroke-width="0.7" />
<line x1="1010.0" y1="256.0" x2="1014.1" y2="258.0" stroke="#d8dcdc" stroke-width="0.6"/>
<line x1="1010.0" y1="256.0" x2="1004.6" y2="257.4" stroke="#d8dcdc" stroke-width="0.6"/>
<line x1="1010.0" y1="256.0" x2="1013.1" y2="251.7" stroke="#d8dcdc" stroke-width="0.6"/>
<path d="M1026.6,268.9 L1019.7,272.0 L1012.8,268.3 L1015.5,260.7 L1022.9,259.8 Z" fill="none" stroke="#d3d8d8" stroke-width="0.7" />
<line x1="1020.0" y1="266.0" x2="1026.6" y2="268.9" stroke="#d8dcdc" stroke-width="0.6"/>
<line x1="1020.0" y1="266.0" x2="1012.8" y2="268.3" stroke="#d8dcdc" stroke-width="0.6"/>
<line x1="1020.0" y1="266.0" x2="1022.9" y2="259.8" stroke="#d8dcdc" stroke-width="0.6"/>
<path d="M1045.4,262.6 L1040.6,267.4 L1035.2,264.2 L1036.2,257.2 L1043.1,256.2 Z" fill="none" stroke="#d3d8d8" stroke-width="0.7" />
<line x1="1040.0" y1="262.0" x2="1045.4" y2="262.6" stroke="#d8dcdc" stroke-width="0.6"/>
<line x1="1040.0" y1="262.0" x2="1035.2" y2="264.2" stroke="#d8dcdc" stroke-width="0.6"/>
<line x1="1040.0" y1="262.0" x2="1043.1" y2="256.2" stroke="#d8dcdc" stroke-width="0.6"/>
<path d="M682.2,315.8 L677.3,322.2 L663.1,319.0 L660.8,306.7 L668.7,300.1 L680.7,303.7 Z" fill="none" stroke="#d3d8d8" stroke-width="0.7" />
<line x1="672.0" y1="312.0" x2="682.2" y2="315.8" stroke="#d8dcdc" stroke-width="0.6"/>
<line x1="672.0" y1="312.0" x2="663.1" y2="319.0" stroke="#d8dcdc" stroke-width="0.6"/>
<line x1="672.0" y1="312.0" x2="668.7" y2="300.1" stroke="#d8dcdc" stroke-width="0.6"/>
<path d="M711.3,321.7 L701.9,330.0 L687.9,323.5 L688.1,313.4 L695.1,300.8 L711.0,309.2 Z" fill="none" stroke="#d3d8d8" stroke-width="0.7" />
<line x1="700.0" y1="316.0" x2="711.3" y2="321.7" stroke="#d8dcdc" stroke-width="0.6"/>
<line x1="700.0" y1="316.0" x2="687.9" y2="323.5" stroke="#d8dcdc" stroke-width="0.6"/>
<line x1="700.0" y1="316.0" x2="695.1" y2="300.8" stroke="#d8dcdc" stroke-width="0.6"/>
<path d="M739.4,313.0 L728.6,323.5 L717.3,320.1 L713.9,309.4 L723.2,299.0 L736.8,299.2 Z" fill="none" stroke="#d3d8d8" stroke-width="0.7" />
<line x1="728.0" y1="310.0" x2="739.4" y2="313.0" stroke="#d8dcdc" stroke-width="0.6"/>
<line x1="728.0" y1="310.0" x2="717.3" y2="320.1" stroke="#d8dcdc" stroke-width="0.6"/>
<line x1="728.0" y1="310.0" x2="723.2" y2="299.0" stroke="#d8dcdc" stroke-width="0.6"/>
<path d="M770.3,306.6 L761.0,320.9 L745.6,315.5 L744.3,300.1 L754.6,292.4 L768.1,295.6 Z" fill="none" stroke="#d3d8d8" stroke-width="0.7" />
<line x1="756.0" y1="306.0" x2="770.3" y2="306.6" stroke="#d8dcdc" stroke-width="0.6"/>
<line x1="756.0" y1="306.0" x2="745.6" y2="315.5" stroke="#d8dcdc" stroke-width="0.6"/>
<line x1="756.0" y1="306.0" x2="754.6" y2="292.4" stroke="#d8dcdc" stroke-width="0.6"/>
<path d="M788.0,320.6 L782.1,328.5 L769.6,324.8 L767.3,315.5 L776.4,307.8 L783.4,309.7 Z" fill="none" stroke="#d3d8d8" stroke-width="0.7" />
<line x1="778.0" y1="318.0" x2="788.0" y2="320.6" stroke="#d8dcdc" stroke-width="0.6"/>
<line x1="778.0" y1="318.0" x2="769.6" y2="324.8" stroke="#d8dcdc" stroke-width="0.6"/>
<line x1="778.0" y1="318.0" x2="776.4" y2="307.8" stroke="#d8dcdc" stroke-width="0.6"/>
<path d="M963.8,282.2 L957.8,290.4 L947.9,286.8 L945.8,279.5 L954.1,273.1 L961.1,274.7 Z" fill="none" stroke="#d3d8d8" stroke-width="0.7" />
<line x1="955.0" y1="282.0" x2="963.8" y2="282.2" stroke="#d8dcdc" stroke-width="0.6"/>
<line x1="955.0" y1="282.0" x2="947.9" y2="286.8" stroke="#d8dcdc" stroke-width="0.6"/>
<line x1="955.0" y1="282.0" x2="954.1" y2="273.1" stroke="#d8dcdc" stroke-width="0.6"/>
<path d="M1018.8,305.6 L1013.8,312.4 L999.3,309.7 L997.2,299.8 L1007.5,286.9 L1014.1,289.8 Z" fill="none" stroke="#d3d8d8" stroke-width="0.7" />
<line x1="1008.0" y1="300.0" x2="1018.8" y2="305.6" stroke="#d8dcdc" stroke-width="0.6"/>
<line x1="1008.0" y1="300.0" x2="999.3" y2="309.7" stroke="#d8dcdc" stroke-width="0.6"/>
<line x1="1008.0" y1="300.0" x2="1007.5" y2="286.9" stroke="#d8dcdc" stroke-width="0.6"/>
<path d="M1038.3,294.0 L1031.1,299.3 L1022.6,296.0 L1020.1,286.9 L1024.7,280.8 L1035.7,281.7 Z" fill="none" stroke="#d3d8d8" stroke-width="0.7" />
<line x1="1030.0" y1="290.0" x2="1038.3" y2="294.0" stroke="#d8dcdc" stroke-width="0.6"/>
<line x1="1030.0" y1="290.0" x2="1022.6" y2="296.0" stroke="#d8dcdc" stroke-width="0.6"/>
<line x1="1030.0" y1="290.0" x2="1024.7" y2="280.8" stroke="#d8dcdc" stroke-width="0.6"/>
<path d="M1026.8,337.6 L1020.7,344.0 L1011.9,341.5 L1010.0,334.4 L1016.4,327.3 L1024.9,329.1 Z" fill="none" stroke="#d3d8d8" stroke-width="0.7" />
<line x1="1018.0" y1="335.0" x2="1026.8" y2="337.6" stroke="#d8dcdc" stroke-width="0.6"/>
<line x1="1018.0" y1="335.0" x2="1011.9" y2="341.5" stroke="#d8dcdc" stroke-width="0.6"/>
<line x1="1018.0" y1="335.0" x2="1016.4" y2="327.3" stroke="#d8dcdc" stroke-width="0.6"/>
<path d="M762.4,410.2 L754.1,418.5 L746.2,419.7 L742.8,408.1 L749.9,398.9 L759.1,401.2 Z" fill="none" stroke="#d3d8d8" stroke-width="0.7" />
<line x1="752.0" y1="410.0" x2="762.4" y2="410.2" stroke="#d8dcdc" stroke-width="0.6"/>
<line x1="752.0" y1="410.0" x2="746.2" y2="419.7" stroke="#d8dcdc" stroke-width="0.6"/>
<line x1="752.0" y1="410.0" x2="749.9" y2="398.9" stroke="#d8dcdc" stroke-width="0.6"/>
<path d="M825.8,320 C825,308 832,302 841,302 C850,302 860,309 875,311.5 C890,313 905,311 915,315 C924,320 925,335 922,347 C918,357 905,360 895,356 C885,352 878,346 868,344 C858,342 845,342 836,338 C828,334 826,328 825.8,320 Z" fill="#fff" stroke="#222" stroke-width="1.3" />
<circle cx="903.2" cy="327.3" r="6.4" fill="none" stroke="#222" stroke-width="1.1"/>
<circle cx="837.7" cy="295.4" r="5.7" fill="none" stroke="#555" stroke-width="0.9" stroke-dasharray="2 1.3"/>
<circle cx="858.5" cy="293.5" r="5.7" fill="none" stroke="#555" stroke-width="0.9" stroke-dasharray="2 1.3"/>
<circle cx="882.5" cy="304.1" r="5.7" fill="none" stroke="#555" stroke-width="0.9" stroke-dasharray="2 1.3"/>
<circle cx="907.0" cy="304.4" r="5.7" fill="none" stroke="#555" stroke-width="0.9" stroke-dasharray="2 1.3"/>
<circle cx="822.2" cy="306.7" r="5.7" fill="none" stroke="#555" stroke-width="0.9" stroke-dasharray="2 1.3"/>
<circle cx="818.6" cy="323.5" r="5.7" fill="none" stroke="#555" stroke-width="0.9" stroke-dasharray="2 1.3"/>
<circle cx="928.0" cy="317.6" r="5.7" fill="none" stroke="#555" stroke-width="0.9" stroke-dasharray="2 1.3"/>
<circle cx="827.6" cy="340.7" r="5.7" fill="none" stroke="#555" stroke-width="0.9" stroke-dasharray="2 1.3"/>
<circle cx="932.7" cy="340.2" r="5.7" fill="none" stroke="#555" stroke-width="0.9" stroke-dasharray="2 1.3"/>
<circle cx="846.9" cy="348.0" r="5.7" fill="none" stroke="#555" stroke-width="0.9" stroke-dasharray="2 1.3"/>
<circle cx="872.8" cy="353.9" r="5.7" fill="none" stroke="#555" stroke-width="0.9" stroke-dasharray="2 1.3"/>
<circle cx="891.5" cy="364.3" r="5.7" fill="none" stroke="#555" stroke-width="0.9" stroke-dasharray="2 1.3"/>
<circle cx="915.0" cy="362.6" r="5.7" fill="none" stroke="#555" stroke-width="0.9" stroke-dasharray="2 1.3"/>
<circle cx="906.8" cy="448.4" r="11.4" fill="none" stroke="#555" stroke-width="0.9" stroke-dasharray="2 1.3"/>
<circle cx="820.3" cy="567.4" r="11.4" fill="none" stroke="#555" stroke-width="0.9" stroke-dasharray="2 1.3"/>
<circle cx="909.2" cy="647.1" r="11.4" fill="none" stroke="#555" stroke-width="0.9" stroke-dasharray="2 1.3"/>
<rect x="1050.0" y="269.6" width="66.7" height="39.5" fill="none" stroke="#444" stroke-width="1" stroke-dasharray="3 2"/>
<line x1="1050.0" y1="269.6" x2="1116.7" y2="309.1" stroke="#aaa" stroke-width="0.6"/>
<line x1="1116.7" y1="269.6" x2="1050.0" y2="309.1" stroke="#aaa" stroke-width="0.6"/>
<path d="M1120.1,244.2 H1194.6 V262.3 H1387.1 V243.7 H1463.3 V469.6 L1453.9,466.6 V253.2 H1395 V296.8 H1387.1 V274.8 H1127.5 V297.2 H1120.1 Z" fill="#8c9d9a" stroke="#1e1e1e" stroke-width="1.8" />
<rect x="1127.2" y="251.6" width="60.4" height="11.5" fill="#fff" stroke="#222" stroke-width="1.5"/>
<line x1="1127.2" y1="251.6" x2="1187.6" y2="263.1" stroke="#bbb" stroke-width="0.5"/>
<line x1="1187.6" y1="251.6" x2="1127.2" y2="263.1" stroke="#bbb" stroke-width="0.5"/>
<rect x="1236.9" y="262.3" width="36.3" height="12.5" fill="#fff" stroke="#333" stroke-width="1"/>
<line x1="1236.9" y1="269.0" x2="1273.2" y2="269.0" stroke="#555" stroke-width="0.8"/>
<line x1="1236.9" y1="272.0" x2="1273.2" y2="272.0" stroke="#555" stroke-width="0.6"/>
<rect x="1120.1" y="325.5" width="7.8" height="44.8" fill="#8c9d9a" stroke="#1e1e1e" stroke-width="1.8"/>
<rect x="1120.5" y="297.2" width="7.0" height="28.3" fill="#fff" stroke="#444" stroke-width="0.8"/>
<path d="M1387.1,356.7 H1395 V447.5 L1369.4,439 V433.3 L1387.1,439 Z" fill="#8c9d9a" stroke="#1e1e1e" stroke-width="1.8" />
<line x1="1395.0" y1="297.0" x2="1424.0" y2="297.0" stroke="#444" stroke-width="1.2"/>
<line x1="1395.0" y1="356.7" x2="1424.0" y2="356.7" stroke="#444" stroke-width="1.2"/>
<path d="M1424,297 A29,29 0 0 1 1395,326" fill="none" stroke="#888" stroke-width="0.7" />
<path d="M1424,356.7 A29,29 0 0 0 1395,327.5" fill="none" stroke="#888" stroke-width="0.7" />
<rect x="1172.4" y="274.8" width="22.6" height="22.4" fill="none" stroke="#333" stroke-width="1"/>
<line x1="1195.0" y1="293.4" x2="1297.8" y2="293.4" stroke="#333" stroke-width="1"/>
<line x1="1297.8" y1="276.2" x2="1297.8" y2="293.4" stroke="#333" stroke-width="1"/>
<rect x="1175.4" y="319.6" width="122.4" height="41.0" fill="none" stroke="#333" stroke-width="1.1"/>
<rect x="1325.2" y="276.2" width="39.3" height="74.6" fill="none" stroke="#333" stroke-width="1.1"/>
<line x1="1364.5" y1="294.8" x2="1387.0" y2="294.8" stroke="#333" stroke-width="1"/>
<rect x="1127.9" y="290.4" width="20.9" height="68.0" fill="none" stroke="#333" stroke-width="1"/>
<rect x="1128.0" y="362.0" width="23.0" height="3.0" fill="#fff" stroke="#333" stroke-width="1"/>
<rect x="1207.0" y="307.4" width="80.2" height="65.4" fill="none" stroke="#c2c8c8" stroke-width="0.7" stroke-dasharray="4 3"/>
<line x1="1207.0" y1="307.4" x2="1287.2" y2="372.8" stroke="#b8bebe" stroke-width="0.8" stroke-dasharray="4 3"/>
<line x1="1287.2" y1="307.4" x2="1207.0" y2="372.8" stroke="#b8bebe" stroke-width="0.8" stroke-dasharray="4 3"/>
<rect x="1166.7" y="274.8" width="83.9" height="30.3" fill="none" stroke="#c2c8c8" stroke-width="0.7" stroke-dasharray="4 3"/>
<line x1="1166.7" y1="274.8" x2="1250.6" y2="305.1" stroke="#b8bebe" stroke-width="0.8" stroke-dasharray="4 3"/>
<line x1="1250.6" y1="274.8" x2="1166.7" y2="305.1" stroke="#b8bebe" stroke-width="0.8" stroke-dasharray="4 3"/>
<line x1="1196.0" y1="327.0" x2="1289.0" y2="352.0" stroke="#b8bebe" stroke-width="0.8" stroke-dasharray="4 3"/>
<line x1="1289.0" y1="327.0" x2="1196.0" y2="352.0" stroke="#b8bebe" stroke-width="0.8" stroke-dasharray="4 3"/>
<rect x="1232.0" y="322.0" width="48.0" height="35.0" fill="none" stroke="#d5dada" stroke-width="0.6"/>
<rect x="1127.8" y="274.5" width="17.7" height="15.8" fill="none" stroke="#333" stroke-width="1"/>
<circle cx="1138.0" cy="323.0" r="6.0" fill="none" stroke="#d0d5d5" stroke-width="0.6"/>
<line x1="1335.0" y1="285.0" x2="1360.0" y2="340.0" stroke="#d5dada" stroke-width="0.6"/>
<line x1="1345.0" y1="285.0" x2="1360.0" y2="330.0" stroke="#d5dada" stroke-width="0.6"/>
<line x1="1342.0" y1="310.0" x2="1362.0" y2="310.0" stroke="#d5dada" stroke-width="0.6"/>
<line x1="1343.0" y1="383.0" x2="1372.0" y2="413.0" stroke="#c2c8c8" stroke-width="0.7" stroke-dasharray="4 3"/>
<line x1="1372.0" y1="383.0" x2="1343.0" y2="413.0" stroke="#c2c8c8" stroke-width="0.7" stroke-dasharray="4 3"/>
<rect x="1265.3" y="388.1" width="121.8" height="23.6" fill="none" stroke="#333" stroke-width="1.1"/>
<rect x="1266.3" y="390.0" width="16.7" height="14.8" fill="#8c9d9a" stroke="#1e1e1e" stroke-width="1.8"/>
<line x1="1149.6" y1="393.4" x2="1265.3" y2="393.4" stroke="#333" stroke-width="1.1"/>
<line x1="1265.3" y1="417.5" x2="1355.7" y2="417.5" stroke="#333" stroke-width="1"/>
<line x1="1149.6" y1="418.1" x2="1265.3" y2="418.1" stroke="#333" stroke-width="1.1"/>
<line x1="1149.6" y1="393.4" x2="1149.6" y2="418.1" stroke="#333" stroke-width="1"/>
<line x1="1300.0" y1="395.0" x2="1380.0" y2="410.0" stroke="#ccc" stroke-width="0.6" stroke-dasharray="3 2"/>
<line x1="1300.0" y1="410.0" x2="1380.0" y2="395.0" stroke="#ccc" stroke-width="0.6" stroke-dasharray="3 2"/>
<path d="M1026.1,303.9 L1120.1,333 V341.2 L1059.3,322.5 V341.2 L1055.5,341.2 L1026.1,333 Z" fill="#8c9d9a" stroke="#1e1e1e" stroke-width="1.8" />
<path d="M1027.9,305.4 L1043.6,310.3 V329.3 L1027.9,325.3 Z" fill="#fff" stroke="#333" stroke-width="1" />
<line x1="1027.9" y1="305.4" x2="1043.6" y2="329.3" stroke="#bbb" stroke-width="0.5"/>
<line x1="1043.6" y1="310.3" x2="1027.9" y2="325.3" stroke="#bbb" stroke-width="0.5"/>
<rect x="1018.2" y="303.6" width="6.3" height="61.5" fill="#fff" stroke="#333" stroke-width="1"/>
<path d="M1063,350.1 L1118.2,367.3 V393.4 H1063 Z" fill="none" stroke="#333" stroke-width="1.1" />
<line x1="1063.0" y1="393.4" x2="1118.2" y2="393.4" stroke="#333" stroke-width="1.1"/>
<line x1="1063.0" y1="393.4" x2="1063.0" y2="418.1" stroke="#333" stroke-width="1"/>
<line x1="1063.0" y1="418.1" x2="1119.0" y2="418.1" stroke="#333" stroke-width="1"/>
<line x1="1119.0" y1="393.4" x2="1119.0" y2="418.1" stroke="#333" stroke-width="1"/>
<rect x="1042.1" y="390.4" width="15.7" height="15.7" fill="#8c9d9a" stroke="#1e1e1e" stroke-width="1.8"/>
<line x1="1034.6" y1="333.0" x2="1034.6" y2="418.0" stroke="#222" stroke-width="1.4"/>
<line x1="1037.5" y1="333.0" x2="1037.5" y2="418.0" stroke="#555" stroke-width="0.8"/>
<path d="M1035.5,418 L1032.5,450 L1032.5,500 L1035,546 L1037,595 L1036,640 L1033,687 L1032,735 L1034.6,775 L1035,838" fill="none" stroke="#222" stroke-width="1.4" />
<rect x="1030.3" y="448.0" width="4.4" height="3.6" fill="#fff" stroke="#333" stroke-width="0.8"/>
<rect x="1030.3" y="499.0" width="4.4" height="3.6" fill="#fff" stroke="#333" stroke-width="0.8"/>
<rect x="1032.8" y="544.2" width="4.4" height="3.6" fill="#fff" stroke="#333" stroke-width="0.8"/>
<rect x="1034.8" y="593.2" width="4.4" height="3.6" fill="#fff" stroke="#333" stroke-width="0.8"/>
<rect x="1033.8" y="638.6" width="4.4" height="3.6" fill="#fff" stroke="#333" stroke-width="0.8"/>
<rect x="1030.8" y="685.7" width="4.4" height="3.6" fill="#fff" stroke="#333" stroke-width="0.8"/>
<rect x="1029.8" y="732.9" width="4.4" height="3.6" fill="#fff" stroke="#333" stroke-width="0.8"/>
<rect x="1032.4" y="773.2" width="4.4" height="3.6" fill="#fff" stroke="#333" stroke-width="0.8"/>
<rect x="985.7" y="776.2" width="44.1" height="60.4" fill="none" stroke="#d8dcdc" stroke-width="0.7"/>
<line x1="1001.0" y1="418.5" x2="1035.0" y2="418.5" stroke="#444" stroke-width="1.2"/>
<path d="M1001,418.5 A32,32 0 0 0 1032.5,450" fill="none" stroke="#999" stroke-width="0.7" stroke-dasharray="3 2" />
<path d="M1154.9,418.5 A111.2,111.2 0 0 1 1123.7,495.7" fill="none" stroke="#333" stroke-width="1.2" />
<path d="M1166.8,418.5 A123.1,123.1 0 0 1 1132.3,504.0" fill="none" stroke="#333" stroke-width="1.2" />
<line x1="1160.0" y1="412.0" x2="1160.0" y2="428.0" stroke="#333" stroke-width="2"/>
<path d="M1122.9,488.5 A178.6,178.6 0 0 1 1122.9,697.5 L1097.6,679.3 A147.5,147.5 0 0 0 1097.6,506.7 Z" fill="#fff" stroke="#222" stroke-width="1.3" />
<path d="M1120.4,490.3 A175.6,175.6 0 0 1 1120.4,695.7" fill="none" stroke="#222" stroke-width="2.2" />
<path d="M1108.3,499.1 A160.6,160.6 0 0 1 1108.3,686.9" fill="none" stroke="#444" stroke-width="0.8" />
<line x1="1122.3" y1="522.6" x2="1135.8" y2="516.0" stroke="#444" stroke-width="0.8"/>
<line x1="1116.6" y1="542.6" x2="1128.9" y2="538.1" stroke="#ddd" stroke-width="0.6"/>
<line x1="1134.5" y1="556.9" x2="1149.1" y2="553.5" stroke="#444" stroke-width="0.8"/>
<line x1="1124.4" y1="575.0" x2="1137.4" y2="573.4" stroke="#ddd" stroke-width="0.6"/>
<line x1="1138.6" y1="593.0" x2="1153.6" y2="593.0" stroke="#444" stroke-width="0.8"/>
<line x1="1124.7" y1="608.4" x2="1137.7" y2="609.8" stroke="#ddd" stroke-width="0.6"/>
<line x1="1134.5" y1="629.1" x2="1149.1" y2="632.5" stroke="#444" stroke-width="0.8"/>
<line x1="1117.5" y1="641.0" x2="1129.9" y2="645.3" stroke="#ddd" stroke-width="0.6"/>
<line x1="1122.3" y1="663.4" x2="1135.8" y2="670.0" stroke="#444" stroke-width="0.8"/>
<line x1="1103.1" y1="671.2" x2="1114.2" y2="678.1" stroke="#ddd" stroke-width="0.6"/>
<path d="M1127.4,692.7 C1137,705 1145,716 1157.8,719.5 H1211.4 V728 H1149.3 C1138,720 1130,708 1122,697.6" fill="none" stroke="#333" stroke-width="1.1" />
<path d="M1212.8,719.5 C1240,719.5 1265.6,728 1265.6,745 V767" fill="none" stroke="#222" stroke-width="1.3" />
<line x1="1212.8" y1="716.0" x2="1212.8" y2="723.0" stroke="#222" stroke-width="1"/>
<line x1="1220.7" y1="716.2" x2="1220.3" y2="723.2" stroke="#222" stroke-width="1"/>
<line x1="1228.4" y1="717.0" x2="1227.6" y2="723.9" stroke="#222" stroke-width="1"/>
<line x1="1235.8" y1="718.1" x2="1234.5" y2="725.0" stroke="#222" stroke-width="1"/>
<line x1="1242.8" y1="719.8" x2="1240.9" y2="726.6" stroke="#222" stroke-width="1"/>
<line x1="1249.3" y1="722.0" x2="1246.7" y2="728.5" stroke="#222" stroke-width="1"/>
<line x1="1255.1" y1="724.8" x2="1251.7" y2="730.9" stroke="#222" stroke-width="1"/>
<line x1="1260.1" y1="728.1" x2="1255.8" y2="733.6" stroke="#222" stroke-width="1"/>
<line x1="1264.3" y1="732.1" x2="1258.9" y2="736.5" stroke="#222" stroke-width="1"/>
<line x1="1267.3" y1="736.8" x2="1260.9" y2="739.7" stroke="#222" stroke-width="1"/>
<line x1="1268.9" y1="742.1" x2="1262.0" y2="743.1" stroke="#222" stroke-width="1"/>
<line x1="1269.1" y1="747.4" x2="1262.1" y2="747.4" stroke="#222" stroke-width="1"/>
<line x1="1269.1" y1="752.3" x2="1262.1" y2="752.3" stroke="#222" stroke-width="1"/>
<line x1="1269.1" y1="757.2" x2="1262.1" y2="757.2" stroke="#222" stroke-width="1"/>
<line x1="1269.1" y1="762.1" x2="1262.1" y2="762.1" stroke="#222" stroke-width="1"/>
<line x1="1269.1" y1="767.0" x2="1262.1" y2="767.0" stroke="#222" stroke-width="1"/>
<ellipse cx="1097.7" cy="532.8" rx="12.5" ry="19.0" transform="rotate(-28 1097.7 532.8)" fill="none" stroke="#555" stroke-width="0.9" stroke-dasharray="2.5 1.5"/>
<ellipse cx="1112.8" cy="592.9" rx="11.0" ry="20.0" transform="rotate(0 1112.8 592.9)" fill="none" stroke="#555" stroke-width="0.9" stroke-dasharray="2.5 1.5"/>
<ellipse cx="1097.7" cy="652.6" rx="12.5" ry="19.0" transform="rotate(28 1097.7 652.6)" fill="none" stroke="#555" stroke-width="0.9" stroke-dasharray="2.5 1.5"/>
<circle cx="1224.0" cy="504.8" r="18.3" fill="none" stroke="#444" stroke-width="1" stroke-dasharray="3 1.5"/>
<rect x="-7.5" y="-7.5" width="15" height="15" transform="translate(1203.5 482.8) rotate(45)" fill="#fff" stroke="#444" stroke-width="1.1" stroke-dasharray="2.5 1"/>
<line x1="1190.3" y1="482.3" x2="1203.0" y2="469.6" stroke="#444" stroke-width="1" stroke-dasharray="2 1"/>
<rect x="-7.5" y="-7.5" width="15" height="15" transform="translate(1244.5 482.8) rotate(45)" fill="#fff" stroke="#444" stroke-width="1.1" stroke-dasharray="2.5 1"/>
<line x1="1245.0" y1="469.6" x2="1257.7" y2="482.3" stroke="#444" stroke-width="1" stroke-dasharray="2 1"/>
<rect x="-7.5" y="-7.5" width="15" height="15" transform="translate(1203.5 526.8) rotate(45)" fill="#fff" stroke="#444" stroke-width="1.1" stroke-dasharray="2.5 1"/>
<line x1="1203.0" y1="540.0" x2="1190.3" y2="527.3" stroke="#444" stroke-width="1" stroke-dasharray="2 1"/>
<rect x="-7.5" y="-7.5" width="15" height="15" transform="translate(1244.5 526.8) rotate(45)" fill="#fff" stroke="#444" stroke-width="1.1" stroke-dasharray="2.5 1"/>
<line x1="1257.7" y1="527.3" x2="1245.0" y2="540.0" stroke="#444" stroke-width="1" stroke-dasharray="2 1"/>
<circle cx="1224.0" cy="581.2" r="18.3" fill="none" stroke="#444" stroke-width="1" stroke-dasharray="3 1.5"/>
<rect x="-7.5" y="-7.5" width="15" height="15" transform="translate(1203.5 559.2) rotate(45)" fill="#fff" stroke="#444" stroke-width="1.1" stroke-dasharray="2.5 1"/>
<line x1="1190.3" y1="558.7" x2="1203.0" y2="546.0" stroke="#444" stroke-width="1" stroke-dasharray="2 1"/>
<rect x="-7.5" y="-7.5" width="15" height="15" transform="translate(1244.5 559.2) rotate(45)" fill="#fff" stroke="#444" stroke-width="1.1" stroke-dasharray="2.5 1"/>
<line x1="1245.0" y1="546.0" x2="1257.7" y2="558.7" stroke="#444" stroke-width="1" stroke-dasharray="2 1"/>
<rect x="-7.5" y="-7.5" width="15" height="15" transform="translate(1203.5 603.2) rotate(45)" fill="#fff" stroke="#444" stroke-width="1.1" stroke-dasharray="2.5 1"/>
<line x1="1203.0" y1="616.4" x2="1190.3" y2="603.7" stroke="#444" stroke-width="1" stroke-dasharray="2 1"/>
<rect x="-7.5" y="-7.5" width="15" height="15" transform="translate(1244.5 603.2) rotate(45)" fill="#fff" stroke="#444" stroke-width="1.1" stroke-dasharray="2.5 1"/>
<line x1="1257.7" y1="603.7" x2="1245.0" y2="616.4" stroke="#444" stroke-width="1" stroke-dasharray="2 1"/>
<circle cx="1224.0" cy="657.4" r="18.3" fill="none" stroke="#444" stroke-width="1" stroke-dasharray="3 1.5"/>
<rect x="-7.5" y="-7.5" width="15" height="15" transform="translate(1203.5 635.4) rotate(45)" fill="#fff" stroke="#444" stroke-width="1.1" stroke-dasharray="2.5 1"/>
<line x1="1190.3" y1="634.9" x2="1203.0" y2="622.2" stroke="#444" stroke-width="1" stroke-dasharray="2 1"/>
<rect x="-7.5" y="-7.5" width="15" height="15" transform="translate(1244.5 635.4) rotate(45)" fill="#fff" stroke="#444" stroke-width="1.1" stroke-dasharray="2.5 1"/>
<line x1="1245.0" y1="622.2" x2="1257.7" y2="634.9" stroke="#444" stroke-width="1" stroke-dasharray="2 1"/>
<rect x="-7.5" y="-7.5" width="15" height="15" transform="translate(1203.5 679.4) rotate(45)" fill="#fff" stroke="#444" stroke-width="1.1" stroke-dasharray="2.5 1"/>
<line x1="1203.0" y1="692.6" x2="1190.3" y2="679.9" stroke="#444" stroke-width="1" stroke-dasharray="2 1"/>
<rect x="-7.5" y="-7.5" width="15" height="15" transform="translate(1244.5 679.4) rotate(45)" fill="#fff" stroke="#444" stroke-width="1.1" stroke-dasharray="2.5 1"/>
<line x1="1257.7" y1="679.9" x2="1245.0" y2="692.6" stroke="#444" stroke-width="1" stroke-dasharray="2 1"/>
<rect x="1042.2" y="617.3" width="15.8" height="15.1" fill="#8c9d9a" stroke="#1e1e1e" stroke-width="1.8"/>
<rect x="1266.6" y="617.3" width="16.6" height="15.1" fill="#8c9d9a" stroke="#1e1e1e" stroke-width="1.8"/>
<rect x="1290.0" y="431.0" width="15.7" height="18.3" fill="none" stroke="#555" stroke-width="1" stroke-dasharray="2 1.2" rx="1.5"/>
<rect x="1290.0" y="479.2" width="15.7" height="18.9" fill="none" stroke="#555" stroke-width="1" stroke-dasharray="2 1.2" rx="1.5"/>
<rect x="1309.5" y="431.0" width="15.7" height="18.3" fill="none" stroke="#555" stroke-width="1" stroke-dasharray="2 1.2" rx="1.5"/>
<rect x="1309.5" y="479.2" width="15.7" height="18.9" fill="none" stroke="#555" stroke-width="1" stroke-dasharray="2 1.2" rx="1.5"/>
<rect x="1329.2" y="431.0" width="16.0" height="18.3" fill="none" stroke="#555" stroke-width="1" stroke-dasharray="2 1.2" rx="1.5"/>
<rect x="1329.2" y="479.2" width="16.0" height="18.9" fill="none" stroke="#555" stroke-width="1" stroke-dasharray="2 1.2" rx="1.5"/>
<rect x="1349.0" y="431.0" width="15.7" height="18.3" fill="none" stroke="#555" stroke-width="1" stroke-dasharray="2 1.2" rx="1.5"/>
<rect x="1349.0" y="479.2" width="15.7" height="18.9" fill="none" stroke="#555" stroke-width="1" stroke-dasharray="2 1.2" rx="1.5"/>
<rect x="1287.6" y="452.8" width="39.9" height="23.5" fill="none" stroke="#555" stroke-width="0.9" stroke-dasharray="2.5 1.5"/>
<rect x="1327.5" y="452.8" width="37.2" height="23.5" fill="none" stroke="#555" stroke-width="0.9" stroke-dasharray="2.5 1.5"/>
<rect x="1290.0" y="516.8" width="15.7" height="18.9" fill="none" stroke="#555" stroke-width="1" stroke-dasharray="2 1.2" rx="1.5"/>
<rect x="1290.0" y="564.8" width="15.7" height="19.2" fill="none" stroke="#555" stroke-width="1" stroke-dasharray="2 1.2" rx="1.5"/>
<rect x="1309.5" y="516.8" width="15.7" height="18.9" fill="none" stroke="#555" stroke-width="1" stroke-dasharray="2 1.2" rx="1.5"/>
<rect x="1309.5" y="564.8" width="15.7" height="19.2" fill="none" stroke="#555" stroke-width="1" stroke-dasharray="2 1.2" rx="1.5"/>
<rect x="1329.2" y="516.8" width="16.0" height="18.9" fill="none" stroke="#555" stroke-width="1" stroke-dasharray="2 1.2" rx="1.5"/>
<rect x="1329.2" y="564.8" width="16.0" height="19.2" fill="none" stroke="#555" stroke-width="1" stroke-dasharray="2 1.2" rx="1.5"/>
<rect x="1349.0" y="516.8" width="15.7" height="18.9" fill="none" stroke="#555" stroke-width="1" stroke-dasharray="2 1.2" rx="1.5"/>
<rect x="1349.0" y="564.8" width="15.7" height="19.2" fill="none" stroke="#555" stroke-width="1" stroke-dasharray="2 1.2" rx="1.5"/>
<rect x="1287.6" y="538.0" width="39.9" height="24.7" fill="none" stroke="#555" stroke-width="0.9" stroke-dasharray="2.5 1.5"/>
<rect x="1327.5" y="538.0" width="37.2" height="24.7" fill="none" stroke="#555" stroke-width="0.9" stroke-dasharray="2.5 1.5"/>
<rect x="1290.0" y="602.0" width="15.7" height="18.9" fill="none" stroke="#555" stroke-width="1" stroke-dasharray="2 1.2" rx="1.5"/>
<rect x="1290.0" y="650.9" width="15.7" height="18.9" fill="none" stroke="#555" stroke-width="1" stroke-dasharray="2 1.2" rx="1.5"/>
<rect x="1309.5" y="602.0" width="15.7" height="18.9" fill="none" stroke="#555" stroke-width="1" stroke-dasharray="2 1.2" rx="1.5"/>
<rect x="1309.5" y="650.9" width="15.7" height="18.9" fill="none" stroke="#555" stroke-width="1" stroke-dasharray="2 1.2" rx="1.5"/>
<rect x="1329.2" y="602.0" width="16.0" height="18.9" fill="none" stroke="#555" stroke-width="1" stroke-dasharray="2 1.2" rx="1.5"/>
<rect x="1329.2" y="650.9" width="16.0" height="18.9" fill="none" stroke="#555" stroke-width="1" stroke-dasharray="2 1.2" rx="1.5"/>
<rect x="1349.0" y="602.0" width="15.7" height="18.9" fill="none" stroke="#555" stroke-width="1" stroke-dasharray="2 1.2" rx="1.5"/>
<rect x="1349.0" y="650.9" width="15.7" height="18.9" fill="none" stroke="#555" stroke-width="1" stroke-dasharray="2 1.2" rx="1.5"/>
<rect x="1287.6" y="623.8" width="39.9" height="24.7" fill="none" stroke="#555" stroke-width="0.9" stroke-dasharray="2.5 1.5"/>
<rect x="1327.5" y="623.8" width="37.2" height="24.7" fill="none" stroke="#555" stroke-width="0.9" stroke-dasharray="2.5 1.5"/>
<rect x="1290.0" y="687.8" width="15.7" height="18.9" fill="none" stroke="#555" stroke-width="1" stroke-dasharray="2 1.2" rx="1.5"/>
<rect x="1290.0" y="736.4" width="15.7" height="19.2" fill="none" stroke="#555" stroke-width="1" stroke-dasharray="2 1.2" rx="1.5"/>
<rect x="1309.5" y="687.8" width="15.7" height="18.9" fill="none" stroke="#555" stroke-width="1" stroke-dasharray="2 1.2" rx="1.5"/>
<rect x="1309.5" y="736.4" width="15.7" height="19.2" fill="none" stroke="#555" stroke-width="1" stroke-dasharray="2 1.2" rx="1.5"/>
<rect x="1329.2" y="687.8" width="16.0" height="18.9" fill="none" stroke="#555" stroke-width="1" stroke-dasharray="2 1.2" rx="1.5"/>
<rect x="1329.2" y="736.4" width="16.0" height="19.2" fill="none" stroke="#555" stroke-width="1" stroke-dasharray="2 1.2" rx="1.5"/>
<rect x="1349.0" y="687.8" width="15.7" height="18.9" fill="none" stroke="#555" stroke-width="1" stroke-dasharray="2 1.2" rx="1.5"/>
<rect x="1349.0" y="736.4" width="15.7" height="19.2" fill="none" stroke="#555" stroke-width="1" stroke-dasharray="2 1.2" rx="1.5"/>
<rect x="1287.6" y="709.6" width="39.9" height="24.8" fill="none" stroke="#555" stroke-width="0.9" stroke-dasharray="2.5 1.5"/>
<rect x="1327.5" y="709.6" width="37.2" height="24.8" fill="none" stroke="#555" stroke-width="0.9" stroke-dasharray="2.5 1.5"/>
<line x1="1356.0" y1="418.0" x2="1356.0" y2="768.0" stroke="#333" stroke-width="1.1"/>
<line x1="1363.3" y1="418.0" x2="1363.3" y2="768.0" stroke="#666" stroke-width="0.8"/>
<line x1="1367.0" y1="418.0" x2="1367.0" y2="768.0" stroke="#444" stroke-width="0.8"/>
<rect x="1370.5" y="462.4" width="7.3" height="80.8" fill="#8c9d9a" stroke="#1e1e1e" stroke-width="1.6"/>
<rect x="1370.5" y="564.2" width="7.3" height="80.8" fill="#8c9d9a" stroke="#1e1e1e" stroke-width="1.6"/>
<rect x="1370.5" y="666.0" width="7.3" height="80.9" fill="#8c9d9a" stroke="#1e1e1e" stroke-width="1.6"/>
<line x1="1368.0" y1="451.0" x2="1372.0" y2="448.0" stroke="#444" stroke-width="0.6"/>
<line x1="1368.0" y1="454.0" x2="1372.0" y2="451.0" stroke="#444" stroke-width="0.6"/>
<line x1="1368.0" y1="457.0" x2="1372.0" y2="454.0" stroke="#444" stroke-width="0.6"/>
<line x1="1368.0" y1="460.0" x2="1372.0" y2="457.0" stroke="#444" stroke-width="0.6"/>
<line x1="1368.0" y1="546.0" x2="1372.0" y2="543.0" stroke="#444" stroke-width="0.6"/>
<line x1="1368.0" y1="549.0" x2="1372.0" y2="546.0" stroke="#444" stroke-width="0.6"/>
<line x1="1368.0" y1="552.0" x2="1372.0" y2="549.0" stroke="#444" stroke-width="0.6"/>
<line x1="1368.0" y1="555.0" x2="1372.0" y2="552.0" stroke="#444" stroke-width="0.6"/>
<line x1="1368.0" y1="558.0" x2="1372.0" y2="555.0" stroke="#444" stroke-width="0.6"/>
<line x1="1368.0" y1="561.0" x2="1372.0" y2="558.0" stroke="#444" stroke-width="0.6"/>
<line x1="1368.0" y1="564.0" x2="1372.0" y2="561.0" stroke="#444" stroke-width="0.6"/>
<line x1="1368.0" y1="648.0" x2="1372.0" y2="645.0" stroke="#444" stroke-width="0.6"/>
<line x1="1368.0" y1="651.0" x2="1372.0" y2="648.0" stroke="#444" stroke-width="0.6"/>
<line x1="1368.0" y1="654.0" x2="1372.0" y2="651.0" stroke="#444" stroke-width="0.6"/>
<line x1="1368.0" y1="657.0" x2="1372.0" y2="654.0" stroke="#444" stroke-width="0.6"/>
<line x1="1368.0" y1="660.0" x2="1372.0" y2="657.0" stroke="#444" stroke-width="0.6"/>
<line x1="1368.0" y1="663.0" x2="1372.0" y2="660.0" stroke="#444" stroke-width="0.6"/>
<line x1="1368.0" y1="666.0" x2="1372.0" y2="663.0" stroke="#444" stroke-width="0.6"/>
<line x1="1368.0" y1="750.0" x2="1372.0" y2="747.0" stroke="#444" stroke-width="0.6"/>
<line x1="1368.0" y1="753.0" x2="1372.0" y2="750.0" stroke="#444" stroke-width="0.6"/>
<line x1="1368.0" y1="756.0" x2="1372.0" y2="753.0" stroke="#444" stroke-width="0.6"/>
<line x1="1368.0" y1="759.0" x2="1372.0" y2="756.0" stroke="#444" stroke-width="0.6"/>
<line x1="1368.0" y1="762.0" x2="1372.0" y2="759.0" stroke="#444" stroke-width="0.6"/>
<line x1="1368.0" y1="765.0" x2="1372.0" y2="762.0" stroke="#444" stroke-width="0.6"/>
<line x1="1368.0" y1="768.0" x2="1372.0" y2="765.0" stroke="#444" stroke-width="0.6"/>
<text transform="translate(1361,440) rotate(-90)" font-size="3.2" text-anchor="middle" fill="#444">915</text>
<text transform="translate(1361,500) rotate(-90)" font-size="3.2" text-anchor="middle" fill="#444">2,750</text>
<text transform="translate(1361,550) rotate(-90)" font-size="3.2" text-anchor="middle" fill="#444">910</text>
<text transform="translate(1361,660) rotate(-90)" font-size="3.2" text-anchor="middle" fill="#444">2,750</text>
<text transform="translate(1361,690) rotate(-90)" font-size="3.2" text-anchor="middle" fill="#444">910</text>
<text transform="translate(1354,600) rotate(-90)" font-size="3.2" text-anchor="middle" fill="#444">11,445</text>
<text transform="translate(1361,720) rotate(-90)" font-size="3.2" text-anchor="middle" fill="#444">2,750</text>
<text transform="translate(1361,760) rotate(-90)" font-size="3.2" text-anchor="middle" fill="#444">915</text>
<path d="M1102.7,771.5 H1210.5 V789.6 H1202.9 V777.5 H1133.3 V838.9 H1202.9 V819.9 H1210.5 V846.6 H1035.7 V838.9 H1128.1 V777.5 H1108.2 V817.3 H1102.7 Z" fill="#8c9d9a" stroke="#1e1e1e" stroke-width="1.8" />
<rect x="1108.2" y="777.5" width="19.9" height="61.4" fill="#fff" stroke="#333" stroke-width="1"/>
<line x1="1108.2" y1="777.5" x2="1128.1" y2="838.9" stroke="#ccc" stroke-width="0.5"/>
<line x1="1128.1" y1="777.5" x2="1108.2" y2="838.9" stroke="#ccc" stroke-width="0.5"/>
<rect x="1190.0" y="795.0" width="12.0" height="19.0" fill="none" stroke="#ccc" stroke-width="0.6"/>
<rect x="1142.0" y="783.0" width="54.0" height="50.0" fill="none" stroke="#e0e0e0" stroke-width="0.6"/>
<line x1="1068.5" y1="769.7" x2="1210.5" y2="769.7" stroke="#333" stroke-width="1.2"/>
<rect x="1071.6" y="746.8" width="42.7" height="22.9" fill="#fff" stroke="#333" stroke-width="1"/>
<rect x="1080.4" y="734.8" width="24.8" height="12.0" fill="none" stroke="#555" stroke-width="0.9" stroke-dasharray="2.5 1.5"/>
<rect x="1086.6" y="771.5" width="13.0" height="19.0" fill="none" stroke="#555" stroke-width="0.9" stroke-dasharray="2.5 1.5"/>
<rect x="1082.0" y="790.5" width="17.6" height="19.9" fill="none" stroke="#555" stroke-width="0.9" stroke-dasharray="2.5 1.5"/>
<line x1="1096.0" y1="822.0" x2="1104.0" y2="836.0" stroke="#222" stroke-width="1.5"/>
<line x1="1002.0" y1="767.5" x2="1035.0" y2="767.5" stroke="#444" stroke-width="1.2"/>
<path d="M1032,735 A32,32 0 0 0 1002,767.5" fill="none" stroke="#999" stroke-width="0.7" stroke-dasharray="3 2" />
<line x1="987.0" y1="840.6" x2="1035.7" y2="840.6" stroke="#333" stroke-width="1"/>
<line x1="987.0" y1="844.0" x2="1035.7" y2="844.0" stroke="#333" stroke-width="0.8"/>
<path d="M1260,741 A30,30 0 0 0 1260,801" fill="none" stroke="#999" stroke-width="0.7" stroke-dasharray="3 2" />
<line x1="1260.0" y1="741.0" x2="1260.0" y2="801.0" stroke="#333" stroke-width="1.2"/>
<line x1="1210.5" y1="771.0" x2="1230.0" y2="771.0" stroke="#333" stroke-width="1"/>
<text x="1235" y="780" font-size="4" fill="#333">1,820</text>
<rect x="1020.1" y="880.0" width="193.5" height="15.9" fill="#fff" stroke="#999" stroke-width="1.2"/>
<rect x="1087.5" y="882.1" width="122.7" height="10.3" fill="#8c9d9a" stroke="#1e1e1e" stroke-width="1.8"/>
<rect x="1046.5" y="883.0" width="40.1" height="9.4" fill="#fff" stroke="#333" stroke-width="1"/>
<line x1="1046.5" y1="883.0" x2="1086.6" y2="892.4" stroke="#ccc" stroke-width="0.5"/>
<line x1="1086.6" y1="883.0" x2="1046.5" y2="892.4" stroke="#ccc" stroke-width="0.5"/>
<rect x="1029.6" y="893.3" width="161.2" height="36.3" fill="#fff" stroke="#333" stroke-width="1.1"/>
<line x1="1038.1" y1="896.0" x2="1038.1" y2="928.0" stroke="#dde0e0" stroke-width="0.7"/>
<line x1="1046.6" y1="896.0" x2="1046.6" y2="928.0" stroke="#dde0e0" stroke-width="0.7"/>
<line x1="1055.1" y1="896.0" x2="1055.1" y2="928.0" stroke="#dde0e0" stroke-width="0.7"/>
<line x1="1063.6" y1="896.0" x2="1063.6" y2="928.0" stroke="#dde0e0" stroke-width="0.7"/>
<line x1="1072.1" y1="896.0" x2="1072.1" y2="928.0" stroke="#dde0e0" stroke-width="0.7"/>
<line x1="1080.6" y1="896.0" x2="1080.6" y2="928.0" stroke="#dde0e0" stroke-width="0.7"/>
<line x1="1089.1" y1="896.0" x2="1089.1" y2="928.0" stroke="#dde0e0" stroke-width="0.7"/>
<line x1="1097.6" y1="896.0" x2="1097.6" y2="928.0" stroke="#dde0e0" stroke-width="0.7"/>
<line x1="1106.1" y1="896.0" x2="1106.1" y2="928.0" stroke="#dde0e0" stroke-width="0.7"/>
<line x1="1114.6" y1="896.0" x2="1114.6" y2="928.0" stroke="#dde0e0" stroke-width="0.7"/>
<line x1="1123.1" y1="896.0" x2="1123.1" y2="928.0" stroke="#dde0e0" stroke-width="0.7"/>
<line x1="1131.6" y1="896.0" x2="1131.6" y2="928.0" stroke="#dde0e0" stroke-width="0.7"/>
<line x1="1140.1" y1="896.0" x2="1140.1" y2="928.0" stroke="#dde0e0" stroke-width="0.7"/>
<line x1="1148.6" y1="896.0" x2="1148.6" y2="928.0" stroke="#dde0e0" stroke-width="0.7"/>
<line x1="1157.1" y1="896.0" x2="1157.1" y2="928.0" stroke="#dde0e0" stroke-width="0.7"/>
<line x1="1165.6" y1="896.0" x2="1165.6" y2="928.0" stroke="#dde0e0" stroke-width="0.7"/>
<line x1="1174.1" y1="896.0" x2="1174.1" y2="928.0" stroke="#dde0e0" stroke-width="0.7"/>
<line x1="1182.6" y1="896.0" x2="1182.6" y2="928.0" stroke="#dde0e0" stroke-width="0.7"/>
<line x1="1154.0" y1="852.0" x2="1154.0" y2="878.0" stroke="#dde0e0" stroke-width="0.7"/>
<line x1="1158.0" y1="852.0" x2="1158.0" y2="878.0" stroke="#dde0e0" stroke-width="0.7"/>
<line x1="1162.0" y1="852.0" x2="1162.0" y2="878.0" stroke="#dde0e0" stroke-width="0.7"/>
<line x1="1166.0" y1="852.0" x2="1166.0" y2="878.0" stroke="#dde0e0" stroke-width="0.7"/>
<line x1="1170.0" y1="852.0" x2="1170.0" y2="878.0" stroke="#dde0e0" stroke-width="0.7"/>
<line x1="1174.0" y1="852.0" x2="1174.0" y2="878.0" stroke="#dde0e0" stroke-width="0.7"/>
<line x1="1178.0" y1="852.0" x2="1178.0" y2="878.0" stroke="#dde0e0" stroke-width="0.7"/>
<line x1="1182.0" y1="852.0" x2="1182.0" y2="878.0" stroke="#dde0e0" stroke-width="0.7"/>
<line x1="1186.0" y1="852.0" x2="1186.0" y2="878.0" stroke="#dde0e0" stroke-width="0.7"/>
<line x1="1046.0" y1="931.3" x2="1190.8" y2="931.3" stroke="#777" stroke-width="1.5"/>
<line x1="987.0" y1="937.4" x2="1046.0" y2="937.4" stroke="#333" stroke-width="1"/>
<line x1="987.0" y1="934.0" x2="1046.0" y2="934.0" stroke="#333" stroke-width="0.8"/>
<line x1="1046.0" y1="929.6" x2="1046.0" y2="937.4" stroke="#333" stroke-width="1"/>
<line x1="1203.0" y1="846.6" x2="1203.0" y2="879.0" stroke="#bbb" stroke-width="0.8"/>
<path d="M1268.8,770.6 H1382.4 V1067 H1268.8 V929.6 H1277.6 V987.4 H1327.9 V993.7 H1281 V1057.7 H1374.4 V940.9 H1305.3 V930.9 H1374.4 V781.4 H1327.9 V807.7 H1322.9 V799 H1276.4 V886.9 H1325.4 V894.4 H1268.8 Z" fill="#8c9d9a" stroke="#1e1e1e" stroke-width="1.8" />
<rect x="1276.4" y="781.4" width="46.5" height="17.6" fill="#fff" stroke="#333" stroke-width="1"/>
<line x1="1276.4" y1="781.4" x2="1322.9" y2="799.0" stroke="#ccc" stroke-width="0.5"/>
<line x1="1322.9" y1="781.4" x2="1276.4" y2="799.0" stroke="#ccc" stroke-width="0.5"/>
<line x1="1280.0" y1="801.0" x2="1280.0" y2="886.0" stroke="#333" stroke-width="1.2"/>
<line x1="1280.0" y1="831.6" x2="1325.0" y2="831.6" stroke="#333" stroke-width="1.6"/>
<line x1="1280.0" y1="859.7" x2="1325.0" y2="859.7" stroke="#333" stroke-width="1.6"/>
<line x1="1305.0" y1="807.0" x2="1325.0" y2="807.0" stroke="#333" stroke-width="1.3"/>
<line x1="1305.0" y1="835.5" x2="1325.0" y2="835.5" stroke="#333" stroke-width="1.3"/>
<line x1="1305.0" y1="863.5" x2="1325.0" y2="863.5" stroke="#333" stroke-width="1.3"/>
<line x1="1324.5" y1="827.8" x2="1324.5" y2="835.8" stroke="#333" stroke-width="1.6"/>
<line x1="1324.5" y1="855.9" x2="1324.5" y2="863.9" stroke="#333" stroke-width="1.6"/>
<line x1="1324.5" y1="884.0" x2="1324.5" y2="892.0" stroke="#333" stroke-width="1.6"/>
<path d="M1305,807 A20,20 0 0 0 1325,827" fill="none" stroke="#aaa" stroke-width="0.6" stroke-dasharray="2 1.5" />
<path d="M1305,835.5 A20,20 0 0 0 1325,855.5" fill="none" stroke="#aaa" stroke-width="0.6" stroke-dasharray="2 1.5" />
<path d="M1305,863.5 A20,20 0 0 0 1325,883.5" fill="none" stroke="#aaa" stroke-width="0.6" stroke-dasharray="2 1.5" />
<rect x="1276.4" y="799.0" width="9.6" height="5.0" fill="#8c9d9a" stroke="#222" stroke-width="1"/>
<rect x="1304.0" y="799.0" width="21.0" height="5.0" fill="#8c9d9a" stroke="#222" stroke-width="1"/>
<line x1="1288.0" y1="804.0" x2="1302.0" y2="813.0" stroke="#222" stroke-width="1.2"/>
<ellipse cx="1292.7" cy="817.8" rx="9.0" ry="6.0" transform="rotate(0 1292.7 817.8)" fill="none" stroke="#8a9595" stroke-width="0.8"/>
<ellipse cx="1290.0" cy="817.8" rx="5.0" ry="3.5" transform="rotate(0 1290.0 817.8)" fill="none" stroke="#8a9595" stroke-width="0.6"/>
<ellipse cx="1292.7" cy="845.4" rx="9.0" ry="6.0" transform="rotate(0 1292.7 845.4)" fill="none" stroke="#8a9595" stroke-width="0.8"/>
<ellipse cx="1290.0" cy="845.4" rx="5.0" ry="3.5" transform="rotate(0 1290.0 845.4)" fill="none" stroke="#8a9595" stroke-width="0.6"/>
<ellipse cx="1292.7" cy="873.0" rx="9.0" ry="6.0" transform="rotate(0 1292.7 873.0)" fill="none" stroke="#8a9595" stroke-width="0.8"/>
<ellipse cx="1290.0" cy="873.0" rx="5.0" ry="3.5" transform="rotate(0 1290.0 873.0)" fill="none" stroke="#8a9595" stroke-width="0.6"/>
<line x1="1285.0" y1="1025.0" x2="1325.0" y2="1025.0" stroke="#333" stroke-width="1.3"/>
<line x1="1308.0" y1="1001.0" x2="1327.0" y2="1001.0" stroke="#333" stroke-width="1.2"/>
<line x1="1326.0" y1="997.0" x2="1326.0" y2="1005.0" stroke="#333" stroke-width="1.2"/>
<line x1="1308.0" y1="1031.0" x2="1327.0" y2="1031.0" stroke="#333" stroke-width="1.2"/>
<line x1="1326.0" y1="1027.0" x2="1326.0" y2="1035.0" stroke="#333" stroke-width="1.2"/>
<ellipse cx="1292.7" cy="1008.7" rx="9.0" ry="6.0" transform="rotate(0 1292.7 1008.7)" fill="none" stroke="#8a9595" stroke-width="0.8"/>
<ellipse cx="1290.0" cy="1008.7" rx="5.0" ry="3.5" transform="rotate(0 1290.0 1008.7)" fill="none" stroke="#8a9595" stroke-width="0.6"/>
<ellipse cx="1292.7" cy="1041.4" rx="9.0" ry="6.0" transform="rotate(0 1292.7 1041.4)" fill="none" stroke="#8a9595" stroke-width="0.8"/>
<ellipse cx="1290.0" cy="1041.4" rx="5.0" ry="3.5" transform="rotate(0 1290.0 1041.4)" fill="none" stroke="#8a9595" stroke-width="0.6"/>
<ellipse cx="1367.0" cy="1002.5" rx="5.5" ry="6.0" transform="rotate(0 1367.0 1002.5)" fill="none" stroke="#8a9595" stroke-width="0.8"/>
<ellipse cx="1367.0" cy="1030.0" rx="5.5" ry="6.0" transform="rotate(0 1367.0 1030.0)" fill="none" stroke="#8a9595" stroke-width="0.8"/>
<rect x="1362.0" y="1047.0" width="10.0" height="9.0" fill="#fff" stroke="#333" stroke-width="1"/>
<line x1="1370.0" y1="792.0" x2="1370.0" y2="930.0" stroke="#555" stroke-width="0.8"/>
<line x1="1372.0" y1="945.0" x2="1372.0" y2="1055.0" stroke="#555" stroke-width="0.8"/>
<rect x="1341.0" y="785.0" width="27.0" height="20.0" fill="none" stroke="#ccc" stroke-width="0.6"/>
<rect x="1355.0" y="955.0" width="17.0" height="30.0" fill="none" stroke="#ccc" stroke-width="0.6"/>
<line x1="1355.0" y1="985.0" x2="1372.0" y2="985.0" stroke="#333" stroke-width="1"/>
<line x1="1357.0" y1="945.0" x2="1372.0" y2="945.0" stroke="#333" stroke-width="0.8"/>
<path d="M1302,894 A27,27 0 0 1 1329,921" fill="none" stroke="#aaa" stroke-width="0.6" stroke-dasharray="2 1.5" />
<line x1="1305.0" y1="924.0" x2="1330.0" y2="924.0" stroke="#333" stroke-width="1.2"/>
<path d="M1282,955 A25,25 0 0 0 1307,930" fill="none" stroke="#aaa" stroke-width="0.6" stroke-dasharray="2 1.5" />
<line x1="1280.0" y1="940.0" x2="1280.0" y2="968.0" stroke="#333" stroke-width="1.2"/>
<line x1="1303.0" y1="875.0" x2="1308.0" y2="875.0" stroke="#333" stroke-width="1"/>
<line x1="1264.0" y1="770.0" x2="1382.4" y2="770.0" stroke="#333" stroke-width="1"/>
<rect x="772.6" y="734.7" width="208.7" height="107.3" fill="none" stroke="#888" stroke-width="1"/>
<rect x="778.9" y="747.0" width="196.4" height="91.0" fill="none" stroke="#333" stroke-width="1.2"/>
<rect x="782.0" y="762.4" width="190.2" height="73.6" fill="#fafbfb" stroke="#333" stroke-width="1.2"/>
<line x1="798.0" y1="763.0" x2="798.0" y2="835.0" stroke="#e6eaea" stroke-width="0.6"/>
<line x1="814.0" y1="763.0" x2="814.0" y2="835.0" stroke="#e6eaea" stroke-width="0.6"/>
<line x1="830.0" y1="763.0" x2="830.0" y2="835.0" stroke="#e6eaea" stroke-width="0.6"/>
<line x1="846.0" y1="763.0" x2="846.0" y2="835.0" stroke="#e6eaea" stroke-width="0.6"/>
<line x1="862.0" y1="763.0" x2="862.0" y2="835.0" stroke="#e6eaea" stroke-width="0.6"/>
<line x1="878.0" y1="763.0" x2="878.0" y2="835.0" stroke="#e6eaea" stroke-width="0.6"/>
<line x1="894.0" y1="763.0" x2="894.0" y2="835.0" stroke="#e6eaea" stroke-width="0.6"/>
<line x1="910.0" y1="763.0" x2="910.0" y2="835.0" stroke="#e6eaea" stroke-width="0.6"/>
<line x1="926.0" y1="763.0" x2="926.0" y2="835.0" stroke="#e6eaea" stroke-width="0.6"/>
<line x1="942.0" y1="763.0" x2="942.0" y2="835.0" stroke="#e6eaea" stroke-width="0.6"/>
<line x1="958.0" y1="763.0" x2="958.0" y2="835.0" stroke="#e6eaea" stroke-width="0.6"/>
<line x1="783.0" y1="777.4" x2="971.0" y2="777.4" stroke="#e6eaea" stroke-width="0.6"/>
<line x1="783.0" y1="792.4" x2="971.0" y2="792.4" stroke="#e6eaea" stroke-width="0.6"/>
<line x1="783.0" y1="807.4" x2="971.0" y2="807.4" stroke="#e6eaea" stroke-width="0.6"/>
<line x1="783.0" y1="822.4" x2="971.0" y2="822.4" stroke="#e6eaea" stroke-width="0.6"/>
<circle cx="931.5" cy="790.2" r="7.9" fill="none" stroke="#333" stroke-width="1"/>
<circle cx="945.1" cy="809.9" r="11.3" fill="none" stroke="#333" stroke-width="1"/>
<path d="M769.7,836.2 H782.5 V842.9 H779.1 V1094.6 H974.6 V924.5 H985.4 V1104.2 H769.7 Z" fill="#8c9d9a" stroke="#1e1e1e" stroke-width="1.8" />
<line x1="766.0" y1="836.2" x2="766.0" y2="1104.2" stroke="#333" stroke-width="0.9"/>
<line x1="782.3" y1="842.9" x2="782.3" y2="1088.5" stroke="#333" stroke-width="0.9"/>
<line x1="782.3" y1="1088.5" x2="971.0" y2="1088.5" stroke="#333" stroke-width="0.9"/>
<line x1="971.0" y1="924.5" x2="971.0" y2="1088.5" stroke="#333" stroke-width="0.9"/>
<line x1="782.5" y1="836.2" x2="970.3" y2="836.2" stroke="#222" stroke-width="1.6"/>
<line x1="782.5" y1="842.9" x2="828.9" y2="842.9" stroke="#222" stroke-width="2.2"/>
<line x1="923.9" y1="842.9" x2="970.3" y2="842.9" stroke="#222" stroke-width="2.2"/>
<rect x="828.9" y="837.0" width="95.0" height="4.5" fill="#fff" stroke="#222" stroke-width="1.1"/>
<line x1="876.0" y1="836.0" x2="876.0" y2="844.0" stroke="#333" stroke-width="1.2"/>
<rect x="970.3" y="836.2" width="16.9" height="34.9" fill="#8c9d9a" stroke="#1e1e1e" stroke-width="1.8"/>
<line x1="975.8" y1="840.0" x2="975.8" y2="868.0" stroke="#222" stroke-width="0.8"/>
<ellipse cx="838.3" cy="860.9" rx="11.0" ry="10.5" transform="rotate(0 838.3 860.9)" fill="none" stroke="#444" stroke-width="0.9" stroke-dasharray="2.5 1.3"/>
<ellipse cx="915.6" cy="860.9" rx="11.0" ry="10.5" transform="rotate(0 915.6 860.9)" fill="none" stroke="#444" stroke-width="0.9" stroke-dasharray="2.5 1.3"/>
<ellipse cx="821.5" cy="882.1" rx="12.6" ry="9.8" transform="rotate(20 821.5 882.1)" fill="none" stroke="#444" stroke-width="0.9" stroke-dasharray="2.5 1.3"/>
<ellipse cx="855.6" cy="882.1" rx="12.6" ry="9.8" transform="rotate(-20 855.6 882.1)" fill="none" stroke="#444" stroke-width="0.9" stroke-dasharray="2.5 1.3"/>
<ellipse cx="898.3" cy="882.1" rx="12.6" ry="9.8" transform="rotate(20 898.3 882.1)" fill="none" stroke="#444" stroke-width="0.9" stroke-dasharray="2.5 1.3"/>
<ellipse cx="932.9" cy="882.1" rx="12.6" ry="9.8" transform="rotate(-20 932.9 882.1)" fill="none" stroke="#444" stroke-width="0.9" stroke-dasharray="2.5 1.3"/>
<circle cx="795.0" cy="905.7" r="7.0" fill="none" stroke="#444" stroke-width="0.9"/>
<line x1="785.0" y1="905.7" x2="805.0" y2="905.7" stroke="#bbb" stroke-width="0.6"/>
<line x1="795.0" y1="896.0" x2="795.0" y2="915.0" stroke="#bbb" stroke-width="0.6"/>
<rect x="782.5" y="1023.0" width="188.5" height="53.0" fill="#f4f6f6" stroke="none" stroke-width="0"/>
<path d="M782.9,922.2 H815.3 V1007.8 H879.4 V1040.5 H782.9 Z" fill="#fff" stroke="#222" stroke-width="1.2" />
<path d="M793.6,922.2 V1029.7 H879.4" fill="none" stroke="#333" stroke-width="0.9" />
<line x1="793.6" y1="943.0" x2="815.3" y2="943.0" stroke="#bbb" stroke-width="0.6"/>
<line x1="793.6" y1="965.0" x2="815.3" y2="965.0" stroke="#bbb" stroke-width="0.6"/>
<line x1="793.6" y1="986.0" x2="815.3" y2="986.0" stroke="#bbb" stroke-width="0.6"/>
<line x1="793.6" y1="1007.0" x2="815.3" y2="1007.0" stroke="#bbb" stroke-width="0.6"/>
<line x1="815.3" y1="1007.8" x2="815.3" y2="1029.7" stroke="#bbb" stroke-width="0.6"/>
<line x1="837.0" y1="1007.8" x2="837.0" y2="1029.7" stroke="#bbb" stroke-width="0.6"/>
<line x1="858.0" y1="1007.8" x2="858.0" y2="1029.7" stroke="#bbb" stroke-width="0.6"/>
<path d="M790,1042 C790,1048 792,1048 800,1048 H870 C874,1048 874,1046 874,1042" fill="none" stroke="#999" stroke-width="0.8" />
<rect x="830.4" y="937.3" width="22.3" height="55.5" fill="none" stroke="#777" stroke-width="0.8" stroke-dasharray="2.5 1.3" rx="11"/>
<rect x="860.6" y="936.9" width="23.5" height="21.1" fill="none" stroke="#444" stroke-width="0.9" stroke-dasharray="2.5 1.3" rx="2"/>
<rect x="866.0" y="934.9" width="18.1" height="25.1" fill="none" stroke="#444" stroke-width="0.9" stroke-dasharray="2.5 1.3" rx="1"/>
<rect x="860.6" y="972.7" width="23.5" height="19.6" fill="none" stroke="#444" stroke-width="0.9" stroke-dasharray="2.5 1.3" rx="2"/>
<rect x="866.0" y="970.7" width="18.1" height="23.6" fill="none" stroke="#444" stroke-width="0.9" stroke-dasharray="2.5 1.3" rx="1"/>
<rect x="956.4" y="924.1" width="6.6" height="20.9" fill="#fff" stroke="#333" stroke-width="1"/>
<rect x="956.7" y="948.6" width="11.3" height="48.5" fill="#fff" stroke="#222" stroke-width="1.4"/>
<line x1="958.0" y1="995.0" x2="966.0" y2="952.0" stroke="#999" stroke-width="0.6" stroke-dasharray="2 1"/>
<rect x="956.4" y="997.1" width="6.6" height="24.5" fill="#fff" stroke="#333" stroke-width="1"/>
<path d="M955,924 A24,24 0 0 0 955,972" fill="none" stroke="#aaa" stroke-width="0.7" stroke-dasharray="3 2" />
<path d="M955,972 A24,24 0 0 0 955,1020" fill="none" stroke="#aaa" stroke-width="0.7" stroke-dasharray="3 2" />
<line x1="960.0" y1="920.0" x2="990.0" y2="920.0" stroke="#333" stroke-width="1.3"/>
<rect x="784.8" y="1076.3" width="182.9" height="11.9" fill="#fff" stroke="#222" stroke-width="1.4"/>
<line x1="807.7" y1="1076.3" x2="807.7" y2="1088.2" stroke="#222" stroke-width="1.4"/>
<line x1="830.5" y1="1076.3" x2="830.5" y2="1088.2" stroke="#222" stroke-width="1.4"/>
<line x1="853.4" y1="1076.3" x2="853.4" y2="1088.2" stroke="#222" stroke-width="1.4"/>
<line x1="876.2" y1="1076.3" x2="876.2" y2="1088.2" stroke="#222" stroke-width="1.4"/>
<line x1="899.1" y1="1076.3" x2="899.1" y2="1088.2" stroke="#222" stroke-width="1.4"/>
<line x1="922.0" y1="1076.3" x2="922.0" y2="1088.2" stroke="#222" stroke-width="1.4"/>
<line x1="944.8" y1="1076.3" x2="944.8" y2="1088.2" stroke="#222" stroke-width="1.4"/>
<circle cx="964.3" cy="1032.4" r="5.0" fill="none" stroke="#444" stroke-width="0.9"/>
<circle cx="949.6" cy="1039.5" r="6.6" fill="none" stroke="#444" stroke-width="0.9" stroke-dasharray="2 1.2"/>
<rect x="-8" y="-6" width="16" height="12" transform="translate(950.1 1054.6) rotate(40)" fill="none" stroke="#444" stroke-width="1"/>
<path d="M794.6,1104 V1112 H900.2" fill="none" stroke="#333" stroke-width="1" />
<path d="M900.2,1104 V1125 C900.2,1130 903,1132 906,1132" fill="none" stroke="#333" stroke-width="1" />
<line x1="906.0" y1="1132.0" x2="920.9" y2="1120.6" stroke="#333" stroke-width="1"/>
<path d="M912,1104 V1115 H1050" fill="none" stroke="#333" stroke-width="1" />
<line x1="920.9" y1="1120.6" x2="1050.0" y2="1120.6" stroke="#333" stroke-width="1"/>
<line x1="920.9" y1="1122.8" x2="1050.0" y2="1122.8" stroke="#333" stroke-width="1"/>
<line x1="985.0" y1="1060.0" x2="1268.8" y2="1060.0" stroke="#333" stroke-width="1.2"/>
<rect x="1088.0" y="1055.0" width="6.0" height="7.0" fill="#fff" stroke="#333" stroke-width="1"/>
<rect x="1205.0" y="1055.0" width="6.0" height="7.0" fill="#fff" stroke="#333" stroke-width="1"/>
<line x1="1122.0" y1="1058.0" x2="1178.0" y2="1058.0" stroke="#333" stroke-width="1.6"/>
<path d="M1117,1051 L1126,1051 M1117,1051 L1121,1049 M1117,1051 L1121,1053" fill="none" stroke="#333" stroke-width="1" />
<path d="M1150,1051 L1162,1051 M1162,1051 L1158,1049 M1162,1051 L1158,1053" fill="none" stroke="#333" stroke-width="1" />
<rect x="1050.5" y="1116.3" width="230.0" height="17.5" fill="#8c9d9a" stroke="#1e1e1e" stroke-width="1.8"/>
<line x1="920.0" y1="1120.0" x2="1050.5" y2="1120.0" stroke="#333" stroke-width="0.9"/>
<line x1="1280.5" y1="1125.0" x2="1382.0" y2="1125.0" stroke="#333" stroke-width="1"/>
<line x1="1280.5" y1="1133.0" x2="1382.0" y2="1133.0" stroke="#333" stroke-width="1"/>
<line x1="1382.0" y1="1122.0" x2="1382.0" y2="1136.0" stroke="#333" stroke-width="1.3"/>
<line x1="1269.2" y1="1060.0" x2="1269.2" y2="1115.0" stroke="#333" stroke-width="0.8"/>
<line x1="1383.8" y1="1067.0" x2="1383.8" y2="1115.0" stroke="#333" stroke-width="0.8"/>
<line x1="1269.2" y1="1115.0" x2="1383.8" y2="1115.0" stroke="#333" stroke-width="0.8"/>
<line x1="985.0" y1="1104.5" x2="1450.0" y2="1104.5" stroke="#ccc" stroke-width="0.8" stroke-dasharray="4 3"/>
<line x1="1453.3" y1="468.0" x2="1453.3" y2="1065.0" stroke="#777" stroke-width="0.8"/>
<line x1="1462.3" y1="470.0" x2="1462.3" y2="1065.0" stroke="#777" stroke-width="0.8"/>
<path d="M1453.3,1065 A60.3,60.3 0 0 1 1393,1125.3 H1382" fill="none" stroke="#777" stroke-width="0.8" />
<path d="M1462.3,1065 A69.3,69.3 0 0 1 1393,1134.3 H1382" fill="none" stroke="#777" stroke-width="0.8" />
<line x1="1394.8" y1="760.0" x2="1394.8" y2="1104.4" stroke="#ccc" stroke-width="0.8" stroke-dasharray="3 3"/>
<path d="M1017,840.6 A28.7,28.7 0 0 1 988.3,869.3" fill="none" stroke="#999" stroke-width="0.7" stroke-dasharray="3 2" />
<path d="M961.3,921.9 A27,27 0 0 1 988.3,894.9" fill="none" stroke="#999" stroke-width="0.7" stroke-dasharray="3 2" />
<circle cx="763.5" cy="870.7" r="1.6" fill="none" stroke="#555" stroke-width="0.8"/>
<circle cx="763.5" cy="928.4" r="1.6" fill="none" stroke="#555" stroke-width="0.8"/>
<circle cx="763.5" cy="986.8" r="1.6" fill="none" stroke="#555" stroke-width="0.8"/>
<circle cx="763.5" cy="1045.0" r="1.6" fill="none" stroke="#555" stroke-width="0.8"/>
<defs><pattern id="spk" width="7" height="7" patternUnits="userSpaceOnUse"><rect width="7" height="7" fill="#e4e7e7"/><circle cx="1" cy="1.5" r="0.7" fill="#8a8f8f"/><circle cx="4.5" cy="0.8" r="0.5" fill="#9a9f9f"/><circle cx="3" cy="4" r="0.7" fill="#7f8585"/><circle cx="6" cy="5" r="0.6" fill="#999"/><circle cx="1.5" cy="6" r="0.5" fill="#8a8f8f"/><circle cx="5.2" cy="3" r="0.4" fill="#777"/></pattern></defs>
<path d="M390.2,504.6 H431.8 V572.6 H420 V633.4 H455.4 C466,633.4 473.3,640 473.3,651.9 V662.8 H390.2 Z" fill="#fff" stroke="#222" stroke-width="1.3" />
<path d="M394,510 H426.1 V566.9 H414.8 V639.6 H454.4 C462,639.6 467.7,645 467.7,653.8 V660.5 H394 Z" fill="url(#spk)" stroke="#333" stroke-width="0.8" />
<line x1="392.0" y1="540.4" x2="392.0" y2="636.8" stroke="#111" stroke-width="2.2" stroke-dasharray="1.5 1"/>
<line x1="411.0" y1="662.2" x2="456.3" y2="662.2" stroke="#111" stroke-width="2.2" stroke-dasharray="1.5 1"/>
<line x1="388.0" y1="505.0" x2="388.0" y2="662.0" stroke="#333" stroke-width="0.8"/>
<line x1="386.0" y1="669.8" x2="470.0" y2="669.8" stroke="#333" stroke-width="1"/>
<line x1="386.0" y1="671.7" x2="470.0" y2="671.7" stroke="#333" stroke-width="1"/>
<rect x="389.0" y="668.0" width="4.0" height="6.0" fill="#fff" stroke="#333" stroke-width="0.8"/>
<rect x="422.0" y="668.0" width="4.0" height="6.0" fill="#fff" stroke="#333" stroke-width="0.8"/>
<rect x="457.0" y="668.0" width="4.0" height="6.0" fill="#fff" stroke="#333" stroke-width="0.8"/>
<circle cx="384.5" cy="552.0" r="1.5" fill="#333" stroke="#333" stroke-width="0.5"/>
<circle cx="384.5" cy="620.0" r="1.5" fill="#333" stroke="#333" stroke-width="0.5"/>
<rect x="386.0" y="672.0" width="77.5" height="244.6" fill="#eceff0" stroke="none" stroke-width="0"/>
<rect x="374.5" y="729.7" width="11.5" height="73.6" fill="#8c9d9a" stroke="#1e1e1e" stroke-width="1.6"/>
<line x1="387.0" y1="730.0" x2="387.0" y2="803.0" stroke="#333" stroke-width="0.8"/>
<rect x="354.0" y="732.2" width="20.5" height="6.0" fill="#fff" stroke="#333" stroke-width="1"/>
<circle cx="361.7" cy="745.8" r="7.5" fill="#fff" stroke="#333" stroke-width="1"/>
<path d="M374.3,823.6 H387 V868.9 H374.3 V849 H353.6 V842.5 H374.3 Z" fill="#8c9d9a" stroke="#1e1e1e" stroke-width="1.6" />
<rect x="356.0" y="826.0" width="12.0" height="14.0" fill="#fff" stroke="#666" stroke-width="0.6"/>
<line x1="356.0" y1="826.0" x2="368.0" y2="840.0" stroke="#bbb" stroke-width="0.5"/>
<line x1="368.0" y1="826.0" x2="356.0" y2="840.0" stroke="#bbb" stroke-width="0.5"/>
<path d="M374.4,892.5 H387.6 V928.6 H374.4 V919.6 H353.7 V912.8 H374.4 Z" fill="#8c9d9a" stroke="#1e1e1e" stroke-width="1.6" />
<line x1="354.0" y1="930.2" x2="407.4" y2="930.2" stroke="#333" stroke-width="1.5"/>
<rect x="374.5" y="958.8" width="12.4" height="131.9" fill="#8c9d9a" stroke="#1e1e1e" stroke-width="1.6"/>
<line x1="388.0" y1="959.0" x2="388.0" y2="1090.0" stroke="#333" stroke-width="0.8"/>
<path d="M386,684.5 A25,25 0 0 1 411,709.5" fill="none" stroke="#999" stroke-width="0.7" stroke-dasharray="3 2" />
<line x1="386.0" y1="684.5" x2="411.0" y2="684.5" stroke="#444" stroke-width="1"/>
<path d="M386,729.5 A15,15 0 0 0 401,714.5" fill="none" stroke="#999" stroke-width="0.7" stroke-dasharray="3 2" />
<path d="M356,803 A18,18 0 0 1 374,785" fill="none" stroke="#999" stroke-width="0.7" stroke-dasharray="3 2" />
<path d="M356,931 A22,22 0 0 0 378,953" fill="none" stroke="#999" stroke-width="0.7" stroke-dasharray="3 2" />
<path d="M407,931 A22,22 0 0 1 385,953" fill="none" stroke="#999" stroke-width="0.7" stroke-dasharray="3 2" />
<line x1="397.0" y1="887.0" x2="397.0" y2="945.7" stroke="#333" stroke-width="1.5"/>
<line x1="455.0" y1="887.0" x2="455.0" y2="945.7" stroke="#333" stroke-width="1.5"/>
<path d="M397,887 A29,29 0 0 1 426,916" fill="none" stroke="#aaa" stroke-width="0.7" stroke-dasharray="3 2" />
<path d="M426,916 A29,29 0 0 1 397,945.7" fill="none" stroke="#aaa" stroke-width="0.7" stroke-dasharray="3 2" />
<path d="M455,887 A29,29 0 0 0 426,916" fill="none" stroke="#aaa" stroke-width="0.7" stroke-dasharray="3 2" />
<path d="M426,916 A29,29 0 0 0 455,945.7" fill="none" stroke="#aaa" stroke-width="0.7" stroke-dasharray="3 2" />
<line x1="387.6" y1="916.6" x2="397.0" y2="916.6" stroke="#333" stroke-width="1"/>
<line x1="455.0" y1="916.6" x2="463.5" y2="916.6" stroke="#333" stroke-width="1"/>
<rect x="428.2" y="719.4" width="5.3" height="142.6" fill="#c9cfcf" stroke="#333" stroke-width="1"/>
<line x1="433.5" y1="722.0" x2="464.4" y2="722.0" stroke="#333" stroke-width="1"/>
<line x1="433.5" y1="730.4" x2="464.4" y2="730.4" stroke="#333" stroke-width="1"/>
<line x1="433.5" y1="738.8" x2="464.4" y2="738.8" stroke="#333" stroke-width="1"/>
<line x1="433.5" y1="747.2" x2="464.4" y2="747.2" stroke="#333" stroke-width="1"/>
<line x1="433.5" y1="755.6" x2="464.4" y2="755.6" stroke="#333" stroke-width="1"/>
<line x1="433.5" y1="764.0" x2="464.4" y2="764.0" stroke="#333" stroke-width="1"/>
<line x1="433.5" y1="772.4" x2="464.4" y2="772.4" stroke="#333" stroke-width="1"/>
<line x1="433.5" y1="780.8" x2="464.4" y2="780.8" stroke="#333" stroke-width="1"/>
<line x1="433.5" y1="789.2" x2="464.4" y2="789.2" stroke="#333" stroke-width="1"/>
<line x1="433.5" y1="797.6" x2="464.4" y2="797.6" stroke="#333" stroke-width="1"/>
<line x1="433.5" y1="806.0" x2="464.4" y2="806.0" stroke="#333" stroke-width="1"/>
<line x1="433.5" y1="814.4" x2="464.4" y2="814.4" stroke="#333" stroke-width="1"/>
<line x1="433.5" y1="822.8" x2="464.4" y2="822.8" stroke="#333" stroke-width="1"/>
<line x1="433.5" y1="831.2" x2="464.4" y2="831.2" stroke="#333" stroke-width="1"/>
<line x1="433.5" y1="839.6" x2="464.4" y2="839.6" stroke="#333" stroke-width="1"/>
<line x1="433.5" y1="848.0" x2="464.4" y2="848.0" stroke="#333" stroke-width="1"/>
<line x1="433.5" y1="856.4" x2="464.4" y2="856.4" stroke="#333" stroke-width="1"/>
<line x1="425.0" y1="847.0" x2="474.0" y2="826.0" stroke="#222" stroke-width="0.9"/>
<rect x="463.5" y="670.4" width="10.7" height="252.3" fill="#fff" stroke="#1e1e1e" stroke-width="1"/>
<rect x="465.2" y="672.0" width="5.4" height="249.0" fill="#8c9d9a" stroke="#1e1e1e" stroke-width="1.6"/>
<line x1="475.0" y1="845.0" x2="475.0" y2="865.0" stroke="#333" stroke-width="1.5"/>
<line x1="511.0" y1="845.0" x2="511.0" y2="865.0" stroke="#333" stroke-width="1.5"/>
<path d="M475,846 A16,16 0 0 1 491,862" fill="none" stroke="#aaa" stroke-width="0.7" stroke-dasharray="3 2" />
<path d="M511,846 A16,16 0 0 0 495,862" fill="none" stroke="#aaa" stroke-width="0.7" stroke-dasharray="3 2" />
<line x1="475.0" y1="864.0" x2="511.0" y2="864.0" stroke="#bbb" stroke-width="0.8" stroke-dasharray="2 2"/>
<rect x="512.4" y="739.4" width="15.3" height="313.6" fill="#eef0f0" stroke="#222" stroke-width="1.3"/>
<circle cx="525.0" cy="748.0" r="1.3" fill="#555" stroke="#555" stroke-width="0.5"/>
<circle cx="525.0" cy="767.0" r="1.3" fill="#555" stroke="#555" stroke-width="0.5"/>
<circle cx="525.0" cy="804.0" r="1.3" fill="#555" stroke="#555" stroke-width="0.5"/>
<circle cx="525.0" cy="823.0" r="1.3" fill="#555" stroke="#555" stroke-width="0.5"/>
<circle cx="525.0" cy="859.0" r="1.3" fill="#555" stroke="#555" stroke-width="0.5"/>
<circle cx="525.0" cy="883.0" r="1.3" fill="#555" stroke="#555" stroke-width="0.5"/>
<path d="M513,793 h2 v3 h3 v-3 h3 M513,808 h2 v-3 h3 v3 h3" fill="none" stroke="#333" stroke-width="0.8" />
<line x1="527.7" y1="776.0" x2="707.2" y2="776.0" stroke="#222" stroke-width="1.2"/>
<line x1="527.7" y1="812.5" x2="707.2" y2="812.5" stroke="#222" stroke-width="1.2"/>
<line x1="527.7" y1="849.7" x2="707.2" y2="849.7" stroke="#222" stroke-width="1.2"/>
<line x1="527.7" y1="886.3" x2="707.2" y2="886.3" stroke="#222" stroke-width="1.2"/>
<line x1="527.7" y1="904.4" x2="707.2" y2="904.4" stroke="#222" stroke-width="1.2"/>
<line x1="527.7" y1="922.8" x2="707.2" y2="922.8" stroke="#222" stroke-width="1.2"/>
<path d="M690,758.3 V776 H678.6 V812.5 H666.4 V849.7 H654.1 V886.3 H642.3 V904.4 H636.5 V922.8 H632.2" fill="none" stroke="#222" stroke-width="1.6" />
<rect x="533.6" y="757.0" width="31.4" height="19.0" fill="none" stroke="#333" stroke-width="1"/>
<rect x="533.6" y="793.6" width="31.4" height="18.9" fill="none" stroke="#333" stroke-width="1"/>
<rect x="533.6" y="830.2" width="31.4" height="19.5" fill="none" stroke="#333" stroke-width="1"/>
<rect x="533.6" y="867.5" width="31.4" height="18.8" fill="none" stroke="#333" stroke-width="1"/>
<line x1="705.7" y1="776.0" x2="705.7" y2="940.0" stroke="#222" stroke-width="1.2"/>
<line x1="703.2" y1="778.0" x2="708.2" y2="778.0" stroke="#222" stroke-width="1.2"/>
<line x1="703.2" y1="783.6" x2="708.2" y2="783.6" stroke="#222" stroke-width="1.2"/>
<line x1="703.2" y1="789.2" x2="708.2" y2="789.2" stroke="#222" stroke-width="1.2"/>
<line x1="703.2" y1="794.8" x2="708.2" y2="794.8" stroke="#222" stroke-width="1.2"/>
<line x1="703.2" y1="800.4" x2="708.2" y2="800.4" stroke="#222" stroke-width="1.2"/>
<line x1="703.2" y1="806.0" x2="708.2" y2="806.0" stroke="#222" stroke-width="1.2"/>
<line x1="703.2" y1="811.6" x2="708.2" y2="811.6" stroke="#222" stroke-width="1.2"/>
<line x1="703.2" y1="817.2" x2="708.2" y2="817.2" stroke="#222" stroke-width="1.2"/>
<line x1="703.2" y1="822.8" x2="708.2" y2="822.8" stroke="#222" stroke-width="1.2"/>
<line x1="703.2" y1="828.4" x2="708.2" y2="828.4" stroke="#222" stroke-width="1.2"/>
<line x1="703.2" y1="834.0" x2="708.2" y2="834.0" stroke="#222" stroke-width="1.2"/>
<line x1="703.2" y1="839.6" x2="708.2" y2="839.6" stroke="#222" stroke-width="1.2"/>
<line x1="703.2" y1="845.2" x2="708.2" y2="845.2" stroke="#222" stroke-width="1.2"/>
<line x1="703.2" y1="850.8" x2="708.2" y2="850.8" stroke="#222" stroke-width="1.2"/>
<line x1="703.2" y1="856.4" x2="708.2" y2="856.4" stroke="#222" stroke-width="1.2"/>
<line x1="703.2" y1="862.0" x2="708.2" y2="862.0" stroke="#222" stroke-width="1.2"/>
<line x1="703.2" y1="867.6" x2="708.2" y2="867.6" stroke="#222" stroke-width="1.2"/>
<line x1="703.2" y1="873.2" x2="708.2" y2="873.2" stroke="#222" stroke-width="1.2"/>
<line x1="703.2" y1="878.8" x2="708.2" y2="878.8" stroke="#222" stroke-width="1.2"/>
<line x1="703.2" y1="884.4" x2="708.2" y2="884.4" stroke="#222" stroke-width="1.2"/>
<line x1="703.2" y1="890.0" x2="708.2" y2="890.0" stroke="#222" stroke-width="1.2"/>
<line x1="703.2" y1="895.6" x2="708.2" y2="895.6" stroke="#222" stroke-width="1.2"/>
<line x1="703.2" y1="901.2" x2="708.2" y2="901.2" stroke="#222" stroke-width="1.2"/>
<line x1="703.2" y1="906.8" x2="708.2" y2="906.8" stroke="#222" stroke-width="1.2"/>
<line x1="703.2" y1="912.4" x2="708.2" y2="912.4" stroke="#222" stroke-width="1.2"/>
<line x1="703.2" y1="918.0" x2="708.2" y2="918.0" stroke="#222" stroke-width="1.2"/>
<line x1="703.2" y1="923.6" x2="708.2" y2="923.6" stroke="#222" stroke-width="1.2"/>
<line x1="703.2" y1="929.2" x2="708.2" y2="929.2" stroke="#222" stroke-width="1.2"/>
<line x1="703.2" y1="934.8" x2="708.2" y2="934.8" stroke="#222" stroke-width="1.2"/>
<rect x="700.4" y="941.0" width="5.6" height="141.0" fill="#fff" stroke="#333" stroke-width="1"/>
<line x1="706.0" y1="1082.0" x2="706.0" y2="1101.5" stroke="#333" stroke-width="1"/>
<line x1="528.2" y1="922.8" x2="528.2" y2="1053.0" stroke="#222" stroke-width="1.1"/>
<path d="M549.8,1082 H700.4 V922.8" fill="none" stroke="#222" stroke-width="1.1" />
<path d="M632.2,922.8 C628,960 622,1015 614.9,1043 C610,1058 600,1068 597.5,1082" fill="none" stroke="#222" stroke-width="1.3" />
<path d="M678.1,984.4 A61,61 0 0 1 612.7,1055.8 L613.5,1046.8 A52,52 0 0 0 669.2,986.0 Z" fill="#7d8484" stroke="#222" stroke-width="1.3" />
<path d="M675.8,985.8 A60.5,60.5 0 0 1 613.9,1053.4" fill="none" stroke="#aaa" stroke-width="0.6" stroke-dasharray="1 1" />
<path d="M671.8,986.5 A56.5,56.5 0 0 1 614.2,1049.4" fill="none" stroke="#aaa" stroke-width="0.6" stroke-dasharray="1 1" />
<rect x="-11" y="-11" width="22" height="22" transform="translate(558.5 991) rotate(22)" fill="none" stroke="#444" stroke-width="1" stroke-dasharray="3 1.5"/>
<rect x="-11" y="-11" width="22" height="22" transform="translate(562.4 1031.1) rotate(22)" fill="none" stroke="#444" stroke-width="1" stroke-dasharray="3 1.5"/>
<circle cx="556.8" cy="1011.6" r="5.6" fill="none" stroke="#444" stroke-width="0.9" stroke-dasharray="2 1"/>
<circle cx="681.6" cy="968.3" r="6.0" fill="none" stroke="#444" stroke-width="0.9"/>
<line x1="673.0" y1="968.3" x2="690.0" y2="968.3" stroke="#aaa" stroke-width="0.5"/>
<line x1="681.6" y1="960.0" x2="681.6" y2="977.0" stroke="#aaa" stroke-width="0.5"/>
<circle cx="568.3" cy="1072.7" r="5.0" fill="none" stroke="#444" stroke-width="0.9"/>
<rect x="511.9" y="1052.8" width="37.9" height="56.3" fill="#fff" stroke="#222" stroke-width="1.5" rx="19"/>
<rect x="517.3" y="1058.2" width="27.1" height="45.5" fill="none" stroke="#222" stroke-width="1.2" rx="13.5"/>
<circle cx="531.5" cy="1065.0" r="1.8" fill="none" stroke="#555" stroke-width="0.7"/>
<circle cx="531.5" cy="1099.0" r="1.8" fill="none" stroke="#555" stroke-width="0.7"/>
<line x1="387.3" y1="998.6" x2="511.9" y2="998.6" stroke="#333" stroke-width="1"/>
<line x1="387.3" y1="1007.2" x2="511.9" y2="1007.2" stroke="#333" stroke-width="1"/>
<line x1="387.3" y1="1015.8" x2="511.9" y2="1015.8" stroke="#333" stroke-width="1"/>
<line x1="387.3" y1="1024.4" x2="511.9" y2="1024.4" stroke="#333" stroke-width="1"/>
<line x1="387.3" y1="1033.0" x2="511.9" y2="1033.0" stroke="#333" stroke-width="1"/>
<line x1="387.3" y1="1041.6" x2="511.9" y2="1041.6" stroke="#333" stroke-width="1"/>
<line x1="387.3" y1="1050.2" x2="511.9" y2="1050.2" stroke="#333" stroke-width="1"/>
<line x1="387.3" y1="1058.8" x2="511.9" y2="1058.8" stroke="#333" stroke-width="1"/>
<line x1="387.3" y1="1067.4" x2="511.9" y2="1067.4" stroke="#333" stroke-width="1"/>
<line x1="387.3" y1="1076.0" x2="511.9" y2="1076.0" stroke="#333" stroke-width="1"/>
<line x1="387.3" y1="1084.6" x2="511.9" y2="1084.6" stroke="#333" stroke-width="1"/>
<line x1="387.3" y1="1093.2" x2="511.9" y2="1093.2" stroke="#333" stroke-width="1"/>
<path d="M387.3,1101.5 H705.9 V1093.5" fill="none" stroke="#333" stroke-width="1" />
<path d="M387.3,1110.2 H662.5 V1101.5" fill="none" stroke="#333" stroke-width="1" />
<path d="M387.3,1118.8 H561.8 V1110.2" fill="none" stroke="#333" stroke-width="1" />
<path d="M387.3,1127.5 H451.3 V1118.8" fill="none" stroke="#333" stroke-width="1" />
<line x1="387.3" y1="998.0" x2="387.3" y2="1127.5" stroke="#333" stroke-width="1"/>
<line x1="469.0" y1="1040.8" x2="469.0" y2="1104.8" stroke="#222" stroke-width="1.6"/>
<line x1="549.8" y1="1093.5" x2="705.9" y2="1093.5" stroke="#333" stroke-width="1"/>
<path d="M707,1050.4 H736 V1123.6 H783.5 V1104" fill="none" stroke="#333" stroke-width="1" />
<path d="M707,1054.4 H727.4 V1130 H786 C789,1130 791,1128 791,1125 V1104" fill="none" stroke="#333" stroke-width="1" />
<circle cx="743.8" cy="1116.2" r="1.6" fill="none" stroke="#555" stroke-width="0.8"/>
<circle cx="773.9" cy="1116.2" r="1.6" fill="none" stroke="#555" stroke-width="0.8"/>
<rect x="387.0" y="1128.0" width="340.0" height="24.0" fill="#fbfcfc" stroke="#e8ebeb" stroke-width="0.6"/>
<line x1="337.0" y1="334.4" x2="628.0" y2="334.4" stroke="#c5cccc" stroke-width="0.8"/>
<path d="M738.5,772.4 L730.9,779.6 L718.9,778.0 L718.5,767.4 L724.8,760.1 L735.3,759.9 Z" fill="none" stroke="#d9dddd" stroke-width="0.7" />
<line x1="728.0" y1="770.0" x2="738.5" y2="772.4" stroke="#dde1e1" stroke-width="0.6"/>
<line x1="728.0" y1="770.0" x2="718.9" y2="778.0" stroke="#dde1e1" stroke-width="0.6"/>
<line x1="728.0" y1="770.0" x2="724.8" y2="760.1" stroke="#dde1e1" stroke-width="0.6"/>
<path d="M766.0,794.6 L754.1,805.7 L742.5,802.7 L738.0,791.0 L747.9,777.3 L759.0,780.8 Z" fill="none" stroke="#d9dddd" stroke-width="0.7" />
<line x1="752.0" y1="792.0" x2="766.0" y2="794.6" stroke="#dde1e1" stroke-width="0.6"/>
<line x1="752.0" y1="792.0" x2="742.5" y2="802.7" stroke="#dde1e1" stroke-width="0.6"/>
<line x1="752.0" y1="792.0" x2="747.9" y2="777.3" stroke="#dde1e1" stroke-width="0.6"/>
<path d="M739.3,828.4 L729.7,836.4 L721.2,836.0 L714.0,824.6 L724.0,814.0 L735.5,816.8 Z" fill="none" stroke="#d9dddd" stroke-width="0.7" />
<line x1="727.0" y1="826.0" x2="739.3" y2="828.4" stroke="#dde1e1" stroke-width="0.6"/>
<line x1="727.0" y1="826.0" x2="721.2" y2="836.0" stroke="#dde1e1" stroke-width="0.6"/>
<line x1="727.0" y1="826.0" x2="724.0" y2="814.0" stroke="#dde1e1" stroke-width="0.6"/>
<path d="M751.6,961.4 L741.6,973.9 L731.3,969.9 L726.1,959.3 L735.4,948.7 L746.0,951.2 Z" fill="none" stroke="#d9dddd" stroke-width="0.7" />
<line x1="738.0" y1="960.0" x2="751.6" y2="961.4" stroke="#dde1e1" stroke-width="0.6"/>
<line x1="738.0" y1="960.0" x2="731.3" y2="969.9" stroke="#dde1e1" stroke-width="0.6"/>
<line x1="738.0" y1="960.0" x2="735.4" y2="948.7" stroke="#dde1e1" stroke-width="0.6"/>
<path d="M772.8,995.6 L762.1,1010.3 L750.3,1005.5 L744.0,990.8 L752.2,981.4 L767.6,983.2 Z" fill="none" stroke="#d9dddd" stroke-width="0.7" />
<line x1="758.0" y1="995.0" x2="772.8" y2="995.6" stroke="#dde1e1" stroke-width="0.6"/>
<line x1="758.0" y1="995.0" x2="750.3" y2="1005.5" stroke="#dde1e1" stroke-width="0.6"/>
<line x1="758.0" y1="995.0" x2="752.2" y2="981.4" stroke="#dde1e1" stroke-width="0.6"/>
<path d="M742.5,1065.9 L735.4,1072.5 L724.8,1068.2 L721.1,1057.6 L730.5,1048.4 L739.6,1052.7 Z" fill="none" stroke="#d9dddd" stroke-width="0.7" />
<line x1="733.0" y1="1062.0" x2="742.5" y2="1065.9" stroke="#dde1e1" stroke-width="0.6"/>
<line x1="733.0" y1="1062.0" x2="724.8" y2="1068.2" stroke="#dde1e1" stroke-width="0.6"/>
<line x1="733.0" y1="1062.0" x2="730.5" y2="1048.4" stroke="#dde1e1" stroke-width="0.6"/>
<path d="M766.8,1041.4 L760.4,1049.2 L750.4,1048.1 L746.7,1038.9 L752.3,1031.8 L762.5,1032.9 Z" fill="none" stroke="#d9dddd" stroke-width="0.7" />
<line x1="757.0" y1="1040.0" x2="766.8" y2="1041.4" stroke="#dde1e1" stroke-width="0.6"/>
<line x1="757.0" y1="1040.0" x2="750.4" y2="1048.1" stroke="#dde1e1" stroke-width="0.6"/>
<line x1="757.0" y1="1040.0" x2="752.3" y2="1031.8" stroke="#dde1e1" stroke-width="0.6"/>
<path d="M773.9,702.9 L761.7,712.1 L749.8,709.3 L748.9,697.0 L753.8,689.1 L768.8,691.8 Z" fill="none" stroke="#d9dddd" stroke-width="0.7" />
<line x1="760.0" y1="700.0" x2="773.9" y2="702.9" stroke="#dde1e1" stroke-width="0.6"/>
<line x1="760.0" y1="700.0" x2="749.8" y2="709.3" stroke="#dde1e1" stroke-width="0.6"/>
<line x1="760.0" y1="700.0" x2="753.8" y2="689.1" stroke="#dde1e1" stroke-width="0.6"/>
<path d="M750.5,720.8 L743.5,728.4 L733.4,727.5 L730.3,718.1 L736.2,711.5 L746.8,713.4 Z" fill="none" stroke="#d9dddd" stroke-width="0.7" />
<line x1="740.0" y1="720.0" x2="750.5" y2="720.8" stroke="#dde1e1" stroke-width="0.6"/>
<line x1="740.0" y1="720.0" x2="733.4" y2="727.5" stroke="#dde1e1" stroke-width="0.6"/>
<line x1="740.0" y1="720.0" x2="736.2" y2="711.5" stroke="#dde1e1" stroke-width="0.6"/>
<circle cx="709.9" cy="840.6" r="1.6" fill="none" stroke="#555" stroke-width="0.8"/>
<circle cx="709.9" cy="899.0" r="1.6" fill="none" stroke="#555" stroke-width="0.8"/>
<circle cx="709.9" cy="957.0" r="1.6" fill="none" stroke="#555" stroke-width="0.8"/>
<circle cx="715.0" cy="1015.0" r="1.6" fill="none" stroke="#555" stroke-width="0.8"/>
<line x1="354.0" y1="1075.0" x2="374.0" y2="1075.0" stroke="#999" stroke-width="0.8"/>
<line x1="354.0" y1="1081.8" x2="374.0" y2="1081.8" stroke="#999" stroke-width="0.8"/>
<line x1="373.0" y1="1075.0" x2="373.0" y2="1091.0" stroke="#333" stroke-width="0.8"/>
<rect x="596.0" y="533.0" width="22.0" height="12.0" fill="none" stroke="#333" stroke-width="1"/>
<line x1="580.0" y1="538.0" x2="596.0" y2="538.0" stroke="#333" stroke-width="0.8"/>
<circle cx="1375.3" cy="259.5" r="1.8" fill="#fff" stroke="#444" stroke-width="0.9"/>
</svg>
</body></html>
